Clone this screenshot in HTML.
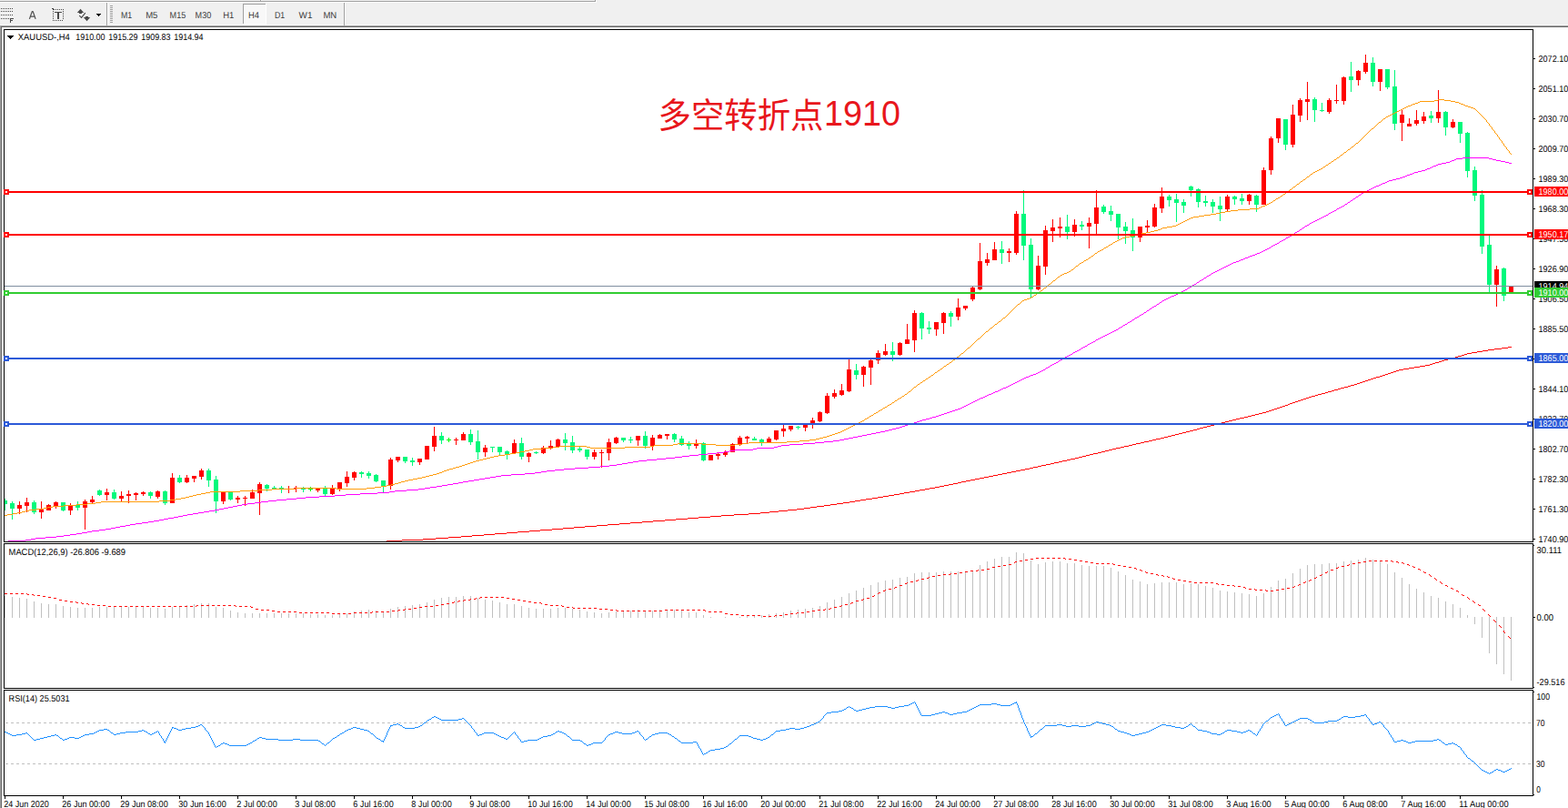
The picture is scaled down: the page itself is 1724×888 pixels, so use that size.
<!DOCTYPE html><html><head><meta charset="utf-8"><title>XAUUSD H4</title><style>html,body{margin:0;padding:0;background:#fff;overflow:hidden}svg{display:block}text{font-family:"Liberation Sans",sans-serif}</style></head><body><svg width="1724" height="888" viewBox="0 0 1724 888" font-family="'Liberation Sans', sans-serif" style="display:block">
<rect x="0" y="0" width="1724" height="888" fill="#fff"/>
<g shape-rendering="crispEdges">
<rect x="0" y="0" width="1724" height="28" fill="#f0f0f0"/>
<rect x="0" y="1" width="655" height="1" fill="#a0a0a0"/>
<rect x="0" y="2" width="656" height="1" fill="#fff"/>
<rect x="654" y="0" width="1" height="2" fill="#a0a0a0"/>
<rect x="655" y="0" width="1" height="3" fill="#fff"/>
<rect x="286" y="0" width="1" height="1" fill="#a0a0a0"/>
<rect x="287" y="0" width="1" height="1" fill="#fff"/>
<rect x="0" y="27" width="1724" height="1" fill="#f8f8f8"/>
<rect x="0" y="28" width="1724" height="1" fill="#a0a0a0"/>
<rect x="0" y="29" width="1724" height="1" fill="#696969"/>
<rect x="0" y="28" width="1" height="860" fill="#a0a0a0"/>
<rect x="1" y="29" width="1" height="859" fill="#696969"/>
<rect x="117" y="3" width="1" height="25" fill="#a0a0a0"/>
<rect x="118" y="3" width="1" height="25" fill="#fff"/>
<rect x="378" y="3" width="1" height="25" fill="#a0a0a0"/>
<rect x="379" y="3" width="1" height="25" fill="#fff"/>
<rect x="121" y="6" width="3" height="1" fill="#a0a0a0"/>
<rect x="121" y="8" width="3" height="1" fill="#a0a0a0"/>
<rect x="121" y="10" width="3" height="1" fill="#a0a0a0"/>
<rect x="121" y="12" width="3" height="1" fill="#a0a0a0"/>
<rect x="121" y="14" width="3" height="1" fill="#a0a0a0"/>
<rect x="121" y="16" width="3" height="1" fill="#a0a0a0"/>
<rect x="121" y="18" width="3" height="1" fill="#a0a0a0"/>
<rect x="121" y="20" width="3" height="1" fill="#a0a0a0"/>
<rect x="121" y="22" width="3" height="1" fill="#a0a0a0"/>
<rect x="121" y="24" width="3" height="1" fill="#a0a0a0"/>
<rect x="1" y="9" width="1" height="1" fill="#484848"/>
<rect x="3" y="9" width="1" height="1" fill="#484848"/>
<rect x="5" y="9" width="1" height="1" fill="#484848"/>
<rect x="7" y="9" width="1" height="1" fill="#484848"/>
<rect x="9" y="9" width="1" height="1" fill="#484848"/>
<rect x="11" y="9" width="1" height="1" fill="#484848"/>
<rect x="13" y="9" width="1" height="1" fill="#484848"/>
<rect x="1" y="12" width="1" height="1" fill="#484848"/>
<rect x="3" y="12" width="1" height="1" fill="#484848"/>
<rect x="5" y="12" width="1" height="1" fill="#484848"/>
<rect x="7" y="12" width="1" height="1" fill="#484848"/>
<rect x="9" y="12" width="1" height="1" fill="#484848"/>
<rect x="11" y="12" width="1" height="1" fill="#484848"/>
<rect x="13" y="12" width="1" height="1" fill="#484848"/>
<rect x="1" y="16" width="1" height="1" fill="#484848"/>
<rect x="3" y="16" width="1" height="1" fill="#484848"/>
<rect x="5" y="16" width="1" height="1" fill="#484848"/>
<rect x="7" y="16" width="1" height="1" fill="#484848"/>
<rect x="9" y="16" width="1" height="1" fill="#484848"/>
<rect x="11" y="16" width="1" height="1" fill="#484848"/>
<rect x="13" y="16" width="1" height="1" fill="#484848"/>
<rect x="1" y="20" width="1" height="1" fill="#484848"/>
<rect x="3" y="20" width="1" height="1" fill="#484848"/>
<rect x="5" y="20" width="1" height="1" fill="#484848"/>
<rect x="7" y="20" width="1" height="1" fill="#484848"/>
<rect x="9" y="20" width="1" height="1" fill="#484848"/>
<rect x="11" y="20" width="1" height="5" fill="#484848"/>
<rect x="11" y="20" width="4" height="1" fill="#484848"/>
<rect x="11" y="22" width="3" height="1" fill="#484848"/>
<rect x="57" y="9" width="2" height="1" fill="#484848"/>
<rect x="58" y="10" width="2" height="1" fill="#484848"/>
<rect x="61" y="10" width="1" height="1" fill="#484848"/>
<rect x="63" y="10" width="1" height="1" fill="#484848"/>
<rect x="65" y="10" width="1" height="1" fill="#484848"/>
<rect x="67" y="10" width="1" height="1" fill="#484848"/>
<rect x="69" y="10" width="1" height="1" fill="#484848"/>
<rect x="58" y="12" width="1" height="1" fill="#484848"/>
<rect x="69" y="12" width="1" height="1" fill="#484848"/>
<rect x="58" y="14" width="1" height="1" fill="#484848"/>
<rect x="69" y="14" width="1" height="1" fill="#484848"/>
<rect x="58" y="16" width="1" height="1" fill="#484848"/>
<rect x="69" y="16" width="1" height="1" fill="#484848"/>
<rect x="58" y="18" width="1" height="1" fill="#484848"/>
<rect x="69" y="18" width="1" height="1" fill="#484848"/>
<rect x="58" y="20" width="1" height="1" fill="#484848"/>
<rect x="69" y="20" width="1" height="1" fill="#484848"/>
<rect x="58" y="22" width="1" height="1" fill="#484848"/>
<rect x="60" y="22" width="1" height="1" fill="#484848"/>
<rect x="62" y="22" width="1" height="1" fill="#484848"/>
<rect x="64" y="22" width="1" height="1" fill="#484848"/>
<rect x="66" y="22" width="1" height="1" fill="#484848"/>
<rect x="68" y="22" width="1" height="1" fill="#484848"/>
<rect x="60" y="13" width="8" height="1" fill="#484848"/>
<rect x="63" y="13" width="2" height="8" fill="#484848"/>
<rect x="106" y="15" width="5" height="1" fill="#000"/>
<rect x="107" y="16" width="3" height="1" fill="#000"/>
<rect x="108" y="17" width="1" height="1" fill="#000"/>
<rect x="268" y="5" width="24" height="21" fill="#f8f8f8"/>
<rect x="267" y="4" width="25" height="1" fill="#a0a0a0"/>
<rect x="267" y="4" width="1" height="22" fill="#a0a0a0"/>
<rect x="292" y="4" width="1" height="23" fill="#fff"/>
<rect x="267" y="26" width="26" height="1" fill="#fff"/>
</g>
<path d="M32.4 20.9L35.3 12.6H36.2L39.1 20.9M33.6 18H37.9" fill="none" stroke="#505050" stroke-width="1.25" stroke-linejoin="round"/>
<path d="M88.5 9.8L92.2 14H90V15H87V14H84.8Z" fill="#484848"/>
<path d="M95.5 23.2L99.2 19H97V18H94V19H91.8Z" fill="#484848"/>
<path d="M87.2 17.2L89.6 19.4L93.8 14.2" fill="none" stroke="#484848" stroke-width="1.1"/>
<text x="132.9" y="20" font-size="10" fill="#3a3a3a" textLength="12.2" lengthAdjust="spacingAndGlyphs" text-rendering="geometricPrecision" xml:space="preserve">M1</text>
<text x="160.2" y="20" font-size="10" fill="#3a3a3a" textLength="13.2" lengthAdjust="spacingAndGlyphs" text-rendering="geometricPrecision" xml:space="preserve">M5</text>
<text x="186.6" y="20" font-size="10" fill="#3a3a3a" textLength="17.6" lengthAdjust="spacingAndGlyphs" text-rendering="geometricPrecision" xml:space="preserve">M15</text>
<text x="214.6" y="20" font-size="10" fill="#3a3a3a" textLength="17.6" lengthAdjust="spacingAndGlyphs" text-rendering="geometricPrecision" xml:space="preserve">M30</text>
<text x="245.2" y="20" font-size="10" fill="#3a3a3a" textLength="12.1" lengthAdjust="spacingAndGlyphs" text-rendering="geometricPrecision" xml:space="preserve">H1</text>
<text x="272.9" y="20" font-size="10" fill="#3a3a3a" textLength="12" lengthAdjust="spacingAndGlyphs" text-rendering="geometricPrecision" xml:space="preserve">H4</text>
<text x="301.9" y="20" font-size="10" fill="#3a3a3a" textLength="11.2" lengthAdjust="spacingAndGlyphs" text-rendering="geometricPrecision" xml:space="preserve">D1</text>
<text x="328.6" y="20" font-size="10" fill="#3a3a3a" textLength="14.8" lengthAdjust="spacingAndGlyphs" text-rendering="geometricPrecision" xml:space="preserve">W1</text>
<text x="355.4" y="20" font-size="10" fill="#3a3a3a" textLength="14.8" lengthAdjust="spacingAndGlyphs" text-rendering="geometricPrecision" xml:space="preserve">MN</text>
<g shape-rendering="crispEdges">
<rect x="4" y="32" width="1682" height="1" fill="#000"/>
<rect x="4" y="595" width="1682" height="1" fill="#000"/>
<rect x="4" y="32" width="1" height="564" fill="#000"/>
<rect x="1685" y="32" width="1" height="564" fill="#000"/>
<rect x="4" y="597" width="1682" height="1" fill="#000"/>
<rect x="4" y="756" width="1682" height="1" fill="#000"/>
<rect x="4" y="597" width="1" height="160" fill="#000"/>
<rect x="1685" y="597" width="1" height="160" fill="#000"/>
<rect x="4" y="758" width="1682" height="1" fill="#000"/>
<rect x="4" y="874" width="1682" height="1" fill="#000"/>
<rect x="4" y="758" width="1" height="117" fill="#000"/>
<rect x="1685" y="758" width="1" height="117" fill="#000"/>
<rect x="5" y="548" width="1" height="13" fill="#00f87c"/>
<rect x="5" y="550" width="3" height="4" fill="#00f87c"/>
<rect x="13" y="551" width="1" height="20" fill="#00f87c"/>
<rect x="11" y="553" width="5" height="6" fill="#00f87c"/>
<rect x="21" y="551" width="1" height="14" fill="#ff0000"/>
<rect x="19" y="555" width="5" height="4" fill="#ff0000"/>
<rect x="29" y="547" width="1" height="16" fill="#ff0000"/>
<rect x="27" y="552" width="5" height="4" fill="#ff0000"/>
<rect x="37" y="550" width="1" height="15" fill="#00f87c"/>
<rect x="35" y="552" width="5" height="11" fill="#00f87c"/>
<rect x="45" y="551" width="1" height="19" fill="#ff0000"/>
<rect x="43" y="560" width="5" height="3" fill="#ff0000"/>
<rect x="53" y="554" width="1" height="7" fill="#ff0000"/>
<rect x="51" y="555" width="5" height="6" fill="#ff0000"/>
<rect x="61" y="551" width="1" height="8" fill="#ff0000"/>
<rect x="59" y="552" width="5" height="4" fill="#ff0000"/>
<rect x="69" y="552" width="1" height="10" fill="#00f87c"/>
<rect x="67" y="552" width="5" height="9" fill="#00f87c"/>
<rect x="77" y="553" width="1" height="13" fill="#ff0000"/>
<rect x="75" y="556" width="5" height="5" fill="#ff0000"/>
<rect x="85" y="551" width="1" height="10" fill="#00f87c"/>
<rect x="83" y="555" width="5" height="3" fill="#00f87c"/>
<rect x="93" y="549" width="1" height="33" fill="#ff0000"/>
<rect x="91" y="551" width="5" height="7" fill="#ff0000"/>
<rect x="101" y="545" width="1" height="8" fill="#ff0000"/>
<rect x="99" y="549" width="5" height="3" fill="#ff0000"/>
<rect x="109" y="538" width="1" height="7" fill="#00f87c"/>
<rect x="107" y="539" width="5" height="5" fill="#00f87c"/>
<rect x="117" y="537" width="1" height="13" fill="#ff0000"/>
<rect x="115" y="541" width="5" height="3" fill="#ff0000"/>
<rect x="125" y="538" width="1" height="11" fill="#00f87c"/>
<rect x="123" y="541" width="5" height="7" fill="#00f87c"/>
<rect x="133" y="540" width="1" height="11" fill="#ff0000"/>
<rect x="131" y="545" width="5" height="3" fill="#ff0000"/>
<rect x="141" y="539" width="1" height="14" fill="#ff0000"/>
<rect x="139" y="543" width="5" height="2" fill="#ff0000"/>
<rect x="149" y="541" width="1" height="9" fill="#ff0000"/>
<rect x="147" y="542" width="5" height="2" fill="#ff0000"/>
<rect x="157" y="540" width="1" height="5" fill="#ff0000"/>
<rect x="155" y="541" width="5" height="2" fill="#ff0000"/>
<rect x="165" y="540" width="1" height="8" fill="#00f87c"/>
<rect x="163" y="541" width="5" height="4" fill="#00f87c"/>
<rect x="173" y="539" width="1" height="9" fill="#ff0000"/>
<rect x="171" y="540" width="5" height="6" fill="#ff0000"/>
<rect x="181" y="539" width="1" height="16" fill="#00f87c"/>
<rect x="179" y="540" width="5" height="13" fill="#00f87c"/>
<rect x="189" y="520" width="1" height="33" fill="#ff0000"/>
<rect x="187" y="525" width="5" height="28" fill="#ff0000"/>
<rect x="197" y="522" width="1" height="9" fill="#00f87c"/>
<rect x="195" y="525" width="5" height="5" fill="#00f87c"/>
<rect x="205" y="522" width="1" height="9" fill="#ff0000"/>
<rect x="203" y="525" width="5" height="5" fill="#ff0000"/>
<rect x="213" y="523" width="1" height="7" fill="#ff0000"/>
<rect x="211" y="523" width="5" height="3" fill="#ff0000"/>
<rect x="221" y="515" width="1" height="12" fill="#ff0000"/>
<rect x="219" y="517" width="5" height="7" fill="#ff0000"/>
<rect x="229" y="515" width="1" height="20" fill="#00f87c"/>
<rect x="227" y="517" width="5" height="11" fill="#00f87c"/>
<rect x="237" y="523" width="1" height="41" fill="#00f87c"/>
<rect x="235" y="527" width="5" height="24" fill="#00f87c"/>
<rect x="245" y="540" width="1" height="14" fill="#ff0000"/>
<rect x="243" y="541" width="5" height="10" fill="#ff0000"/>
<rect x="253" y="541" width="1" height="9" fill="#00f87c"/>
<rect x="251" y="541" width="5" height="8" fill="#00f87c"/>
<rect x="261" y="545" width="1" height="8" fill="#ff0000"/>
<rect x="259" y="547" width="5" height="2" fill="#ff0000"/>
<rect x="269" y="545" width="1" height="11" fill="#ff0000"/>
<rect x="267" y="547" width="5" height="1" fill="#ff0000"/>
<rect x="277" y="538" width="1" height="10" fill="#ff0000"/>
<rect x="275" y="541" width="5" height="7" fill="#ff0000"/>
<rect x="285" y="530" width="1" height="36" fill="#ff0000"/>
<rect x="283" y="532" width="5" height="10" fill="#ff0000"/>
<rect x="293" y="532" width="1" height="8" fill="#00f87c"/>
<rect x="291" y="533" width="5" height="4" fill="#00f87c"/>
<rect x="301" y="534" width="1" height="4" fill="#00f87c"/>
<rect x="299" y="536" width="5" height="1" fill="#00f87c"/>
<rect x="309" y="534" width="1" height="8" fill="#00f87c"/>
<rect x="307" y="536" width="5" height="1" fill="#00f87c"/>
<rect x="317" y="534" width="1" height="8" fill="#ff0000"/>
<rect x="315" y="537" width="5" height="1" fill="#ff0000"/>
<rect x="325" y="534" width="1" height="7" fill="#ff0000"/>
<rect x="323" y="536" width="5" height="1" fill="#ff0000"/>
<rect x="333" y="535" width="1" height="6" fill="#00f87c"/>
<rect x="331" y="537" width="5" height="1" fill="#00f87c"/>
<rect x="341" y="535" width="1" height="5" fill="#00ff00"/>
<rect x="339" y="537" width="5" height="1" fill="#00ff00"/>
<rect x="349" y="537" width="1" height="4" fill="#ff0000"/>
<rect x="347" y="537" width="5" height="2" fill="#ff0000"/>
<rect x="357" y="534" width="1" height="11" fill="#00f87c"/>
<rect x="355" y="537" width="5" height="6" fill="#00f87c"/>
<rect x="365" y="533" width="1" height="11" fill="#ff0000"/>
<rect x="363" y="536" width="5" height="7" fill="#ff0000"/>
<rect x="373" y="530" width="1" height="10" fill="#ff0000"/>
<rect x="371" y="530" width="5" height="7" fill="#ff0000"/>
<rect x="381" y="518" width="1" height="17" fill="#ff0000"/>
<rect x="379" y="524" width="5" height="7" fill="#ff0000"/>
<rect x="389" y="518" width="1" height="10" fill="#ff0000"/>
<rect x="387" y="519" width="5" height="6" fill="#ff0000"/>
<rect x="397" y="518" width="1" height="7" fill="#00f87c"/>
<rect x="395" y="519" width="5" height="2" fill="#00f87c"/>
<rect x="405" y="518" width="1" height="8" fill="#00f87c"/>
<rect x="403" y="520" width="5" height="3" fill="#00f87c"/>
<rect x="413" y="521" width="1" height="9" fill="#00f87c"/>
<rect x="411" y="522" width="5" height="7" fill="#00f87c"/>
<rect x="421" y="528" width="1" height="13" fill="#00f87c"/>
<rect x="419" y="528" width="5" height="6" fill="#00f87c"/>
<rect x="429" y="503" width="1" height="35" fill="#ff0000"/>
<rect x="427" y="505" width="5" height="29" fill="#ff0000"/>
<rect x="437" y="502" width="1" height="6" fill="#ff0000"/>
<rect x="435" y="502" width="5" height="4" fill="#ff0000"/>
<rect x="445" y="502" width="1" height="7" fill="#00f87c"/>
<rect x="443" y="502" width="5" height="5" fill="#00f87c"/>
<rect x="453" y="503" width="1" height="9" fill="#00f87c"/>
<rect x="451" y="506" width="5" height="2" fill="#00f87c"/>
<rect x="461" y="504" width="1" height="7" fill="#ff0000"/>
<rect x="459" y="504" width="5" height="4" fill="#ff0000"/>
<rect x="469" y="490" width="1" height="15" fill="#ff0000"/>
<rect x="467" y="490" width="5" height="15" fill="#ff0000"/>
<rect x="477" y="469" width="1" height="27" fill="#ff0000"/>
<rect x="475" y="479" width="5" height="12" fill="#ff0000"/>
<rect x="485" y="475" width="1" height="13" fill="#00f87c"/>
<rect x="483" y="479" width="5" height="5" fill="#00f87c"/>
<rect x="493" y="481" width="1" height="5" fill="#00ff00"/>
<rect x="491" y="483" width="5" height="1" fill="#00ff00"/>
<rect x="501" y="481" width="1" height="8" fill="#ff0000"/>
<rect x="499" y="483" width="5" height="1" fill="#ff0000"/>
<rect x="509" y="475" width="1" height="9" fill="#ff0000"/>
<rect x="507" y="477" width="5" height="7" fill="#ff0000"/>
<rect x="517" y="472" width="1" height="17" fill="#00f87c"/>
<rect x="515" y="477" width="5" height="9" fill="#00f87c"/>
<rect x="525" y="473" width="1" height="32" fill="#00f87c"/>
<rect x="523" y="485" width="5" height="12" fill="#00f87c"/>
<rect x="533" y="489" width="1" height="13" fill="#ff0000"/>
<rect x="531" y="492" width="5" height="5" fill="#ff0000"/>
<rect x="541" y="491" width="1" height="6" fill="#00f87c"/>
<rect x="539" y="491" width="5" height="1" fill="#00f87c"/>
<rect x="549" y="491" width="1" height="9" fill="#00f87c"/>
<rect x="547" y="491" width="5" height="6" fill="#00f87c"/>
<rect x="557" y="495" width="1" height="10" fill="#00f87c"/>
<rect x="555" y="496" width="5" height="3" fill="#00f87c"/>
<rect x="565" y="483" width="1" height="16" fill="#ff0000"/>
<rect x="563" y="487" width="5" height="11" fill="#ff0000"/>
<rect x="573" y="481" width="1" height="24" fill="#00f87c"/>
<rect x="571" y="487" width="5" height="15" fill="#00f87c"/>
<rect x="581" y="497" width="1" height="11" fill="#ff0000"/>
<rect x="579" y="498" width="5" height="4" fill="#ff0000"/>
<rect x="589" y="496" width="1" height="3" fill="#00f87c"/>
<rect x="587" y="497" width="5" height="1" fill="#00f87c"/>
<rect x="597" y="490" width="1" height="9" fill="#ff0000"/>
<rect x="595" y="492" width="5" height="6" fill="#ff0000"/>
<rect x="605" y="484" width="1" height="10" fill="#ff0000"/>
<rect x="603" y="490" width="5" height="2" fill="#ff0000"/>
<rect x="613" y="482" width="1" height="9" fill="#ff0000"/>
<rect x="611" y="483" width="5" height="8" fill="#ff0000"/>
<rect x="621" y="476" width="1" height="19" fill="#00f87c"/>
<rect x="619" y="483" width="5" height="4" fill="#00f87c"/>
<rect x="629" y="479" width="1" height="19" fill="#00f87c"/>
<rect x="627" y="486" width="5" height="9" fill="#00f87c"/>
<rect x="637" y="491" width="1" height="6" fill="#00f87c"/>
<rect x="635" y="493" width="5" height="2" fill="#00f87c"/>
<rect x="645" y="494" width="1" height="11" fill="#00f87c"/>
<rect x="643" y="494" width="5" height="8" fill="#00f87c"/>
<rect x="653" y="494" width="1" height="11" fill="#ff0000"/>
<rect x="651" y="497" width="5" height="5" fill="#ff0000"/>
<rect x="661" y="494" width="1" height="20" fill="#ff0000"/>
<rect x="659" y="497" width="5" height="1" fill="#ff0000"/>
<rect x="669" y="482" width="1" height="24" fill="#ff0000"/>
<rect x="667" y="486" width="5" height="12" fill="#ff0000"/>
<rect x="677" y="480" width="1" height="8" fill="#ff0000"/>
<rect x="675" y="481" width="5" height="6" fill="#ff0000"/>
<rect x="685" y="481" width="1" height="5" fill="#00f87c"/>
<rect x="683" y="481" width="5" height="3" fill="#00f87c"/>
<rect x="693" y="480" width="1" height="7" fill="#00f87c"/>
<rect x="691" y="483" width="5" height="1" fill="#00f87c"/>
<rect x="701" y="479" width="1" height="11" fill="#ff0000"/>
<rect x="699" y="479" width="5" height="5" fill="#ff0000"/>
<rect x="709" y="474" width="1" height="19" fill="#00f87c"/>
<rect x="707" y="479" width="5" height="11" fill="#00f87c"/>
<rect x="717" y="478" width="1" height="17" fill="#ff0000"/>
<rect x="715" y="481" width="5" height="9" fill="#ff0000"/>
<rect x="725" y="477" width="1" height="5" fill="#ff0000"/>
<rect x="723" y="478" width="5" height="4" fill="#ff0000"/>
<rect x="733" y="477" width="1" height="6" fill="#ff0000"/>
<rect x="731" y="477" width="5" height="2" fill="#ff0000"/>
<rect x="741" y="476" width="1" height="10" fill="#00f87c"/>
<rect x="739" y="477" width="5" height="6" fill="#00f87c"/>
<rect x="749" y="479" width="1" height="11" fill="#00f87c"/>
<rect x="747" y="482" width="5" height="7" fill="#00f87c"/>
<rect x="757" y="485" width="1" height="9" fill="#00f87c"/>
<rect x="755" y="488" width="5" height="2" fill="#00f87c"/>
<rect x="765" y="483" width="1" height="10" fill="#ff0000"/>
<rect x="763" y="488" width="5" height="2" fill="#ff0000"/>
<rect x="773" y="486" width="1" height="21" fill="#00f87c"/>
<rect x="771" y="487" width="5" height="19" fill="#00f87c"/>
<rect x="781" y="500" width="1" height="6" fill="#ff0000"/>
<rect x="779" y="500" width="5" height="6" fill="#ff0000"/>
<rect x="789" y="498" width="1" height="7" fill="#ff0000"/>
<rect x="787" y="499" width="5" height="2" fill="#ff0000"/>
<rect x="797" y="495" width="1" height="7" fill="#ff0000"/>
<rect x="795" y="497" width="5" height="3" fill="#ff0000"/>
<rect x="805" y="487" width="1" height="10" fill="#ff0000"/>
<rect x="803" y="488" width="5" height="9" fill="#ff0000"/>
<rect x="813" y="479" width="1" height="11" fill="#ff0000"/>
<rect x="811" y="481" width="5" height="7" fill="#ff0000"/>
<rect x="821" y="479" width="1" height="8" fill="#ff0000"/>
<rect x="819" y="480" width="5" height="2" fill="#ff0000"/>
<rect x="829" y="480" width="1" height="4" fill="#00f87c"/>
<rect x="827" y="482" width="5" height="2" fill="#00f87c"/>
<rect x="837" y="482" width="1" height="8" fill="#00f87c"/>
<rect x="835" y="483" width="5" height="3" fill="#00f87c"/>
<rect x="845" y="480" width="1" height="6" fill="#ff0000"/>
<rect x="843" y="482" width="5" height="4" fill="#ff0000"/>
<rect x="853" y="473" width="1" height="11" fill="#ff0000"/>
<rect x="851" y="473" width="5" height="10" fill="#ff0000"/>
<rect x="861" y="466" width="1" height="14" fill="#ff0000"/>
<rect x="859" y="471" width="5" height="3" fill="#ff0000"/>
<rect x="869" y="468" width="1" height="6" fill="#ff0000"/>
<rect x="867" y="468" width="5" height="4" fill="#ff0000"/>
<rect x="877" y="468" width="1" height="4" fill="#00f87c"/>
<rect x="875" y="469" width="5" height="1" fill="#00f87c"/>
<rect x="885" y="467" width="1" height="7" fill="#ff0000"/>
<rect x="883" y="467" width="5" height="3" fill="#ff0000"/>
<rect x="893" y="459" width="1" height="12" fill="#ff0000"/>
<rect x="891" y="462" width="5" height="4" fill="#ff0000"/>
<rect x="901" y="452" width="1" height="12" fill="#ff0000"/>
<rect x="899" y="453" width="5" height="10" fill="#ff0000"/>
<rect x="909" y="432" width="1" height="23" fill="#ff0000"/>
<rect x="907" y="435" width="5" height="19" fill="#ff0000"/>
<rect x="917" y="428" width="1" height="10" fill="#ff0000"/>
<rect x="915" y="432" width="5" height="4" fill="#ff0000"/>
<rect x="925" y="422" width="1" height="13" fill="#ff0000"/>
<rect x="923" y="429" width="5" height="5" fill="#ff0000"/>
<rect x="933" y="394" width="1" height="37" fill="#ff0000"/>
<rect x="931" y="406" width="5" height="24" fill="#ff0000"/>
<rect x="941" y="400" width="1" height="17" fill="#00f87c"/>
<rect x="939" y="407" width="5" height="5" fill="#00f87c"/>
<rect x="949" y="402" width="1" height="23" fill="#ff0000"/>
<rect x="947" y="403" width="5" height="9" fill="#ff0000"/>
<rect x="957" y="395" width="1" height="28" fill="#ff0000"/>
<rect x="955" y="396" width="5" height="8" fill="#ff0000"/>
<rect x="965" y="385" width="1" height="15" fill="#ff0000"/>
<rect x="963" y="388" width="5" height="8" fill="#ff0000"/>
<rect x="973" y="378" width="1" height="13" fill="#ff0000"/>
<rect x="971" y="386" width="5" height="4" fill="#ff0000"/>
<rect x="981" y="376" width="1" height="21" fill="#00f87c"/>
<rect x="979" y="386" width="5" height="4" fill="#00f87c"/>
<rect x="989" y="376" width="1" height="15" fill="#ff0000"/>
<rect x="987" y="377" width="5" height="13" fill="#ff0000"/>
<rect x="997" y="356" width="1" height="22" fill="#ff0000"/>
<rect x="995" y="373" width="5" height="5" fill="#ff0000"/>
<rect x="1005" y="341" width="1" height="46" fill="#ff0000"/>
<rect x="1003" y="344" width="5" height="30" fill="#ff0000"/>
<rect x="1013" y="343" width="1" height="30" fill="#00f87c"/>
<rect x="1011" y="344" width="5" height="17" fill="#00f87c"/>
<rect x="1021" y="353" width="1" height="14" fill="#00f87c"/>
<rect x="1019" y="360" width="5" height="2" fill="#00f87c"/>
<rect x="1029" y="354" width="1" height="15" fill="#ff0000"/>
<rect x="1027" y="354" width="5" height="8" fill="#ff0000"/>
<rect x="1037" y="343" width="1" height="24" fill="#ff0000"/>
<rect x="1035" y="344" width="5" height="11" fill="#ff0000"/>
<rect x="1045" y="342" width="1" height="17" fill="#00f87c"/>
<rect x="1043" y="344" width="5" height="4" fill="#00f87c"/>
<rect x="1053" y="328" width="1" height="24" fill="#ff0000"/>
<rect x="1051" y="338" width="5" height="10" fill="#ff0000"/>
<rect x="1061" y="336" width="1" height="5" fill="#ff0000"/>
<rect x="1059" y="336" width="5" height="3" fill="#ff0000"/>
<rect x="1069" y="315" width="1" height="16" fill="#ff0000"/>
<rect x="1067" y="316" width="5" height="13" fill="#ff0000"/>
<rect x="1077" y="267" width="1" height="52" fill="#ff0000"/>
<rect x="1075" y="287" width="5" height="31" fill="#ff0000"/>
<rect x="1085" y="278" width="1" height="14" fill="#ff0000"/>
<rect x="1083" y="285" width="5" height="4" fill="#ff0000"/>
<rect x="1093" y="266" width="1" height="20" fill="#ff0000"/>
<rect x="1091" y="274" width="5" height="12" fill="#ff0000"/>
<rect x="1101" y="265" width="1" height="25" fill="#00f87c"/>
<rect x="1099" y="274" width="5" height="4" fill="#00f87c"/>
<rect x="1109" y="273" width="1" height="15" fill="#ff0000"/>
<rect x="1107" y="276" width="5" height="2" fill="#ff0000"/>
<rect x="1117" y="232" width="1" height="48" fill="#ff0000"/>
<rect x="1115" y="235" width="5" height="43" fill="#ff0000"/>
<rect x="1125" y="209" width="1" height="77" fill="#00f87c"/>
<rect x="1123" y="235" width="5" height="35" fill="#00f87c"/>
<rect x="1133" y="262" width="1" height="66" fill="#00f87c"/>
<rect x="1131" y="269" width="5" height="49" fill="#00f87c"/>
<rect x="1141" y="281" width="1" height="38" fill="#ff0000"/>
<rect x="1139" y="292" width="5" height="26" fill="#ff0000"/>
<rect x="1149" y="248" width="1" height="54" fill="#ff0000"/>
<rect x="1147" y="253" width="5" height="40" fill="#ff0000"/>
<rect x="1157" y="241" width="1" height="25" fill="#ff0000"/>
<rect x="1155" y="250" width="5" height="4" fill="#ff0000"/>
<rect x="1165" y="239" width="1" height="22" fill="#ff0000"/>
<rect x="1163" y="249" width="5" height="2" fill="#ff0000"/>
<rect x="1173" y="236" width="1" height="27" fill="#00f87c"/>
<rect x="1171" y="249" width="5" height="6" fill="#00f87c"/>
<rect x="1181" y="241" width="1" height="19" fill="#ff0000"/>
<rect x="1179" y="247" width="5" height="8" fill="#ff0000"/>
<rect x="1189" y="243" width="1" height="10" fill="#00f87c"/>
<rect x="1187" y="247" width="5" height="2" fill="#00f87c"/>
<rect x="1197" y="239" width="1" height="34" fill="#ff0000"/>
<rect x="1195" y="245" width="5" height="4" fill="#ff0000"/>
<rect x="1205" y="209" width="1" height="49" fill="#ff0000"/>
<rect x="1203" y="228" width="5" height="18" fill="#ff0000"/>
<rect x="1213" y="225" width="1" height="10" fill="#00f87c"/>
<rect x="1211" y="227" width="5" height="6" fill="#00f87c"/>
<rect x="1221" y="226" width="1" height="17" fill="#00f87c"/>
<rect x="1219" y="232" width="5" height="4" fill="#00f87c"/>
<rect x="1229" y="235" width="1" height="28" fill="#00f87c"/>
<rect x="1227" y="235" width="5" height="15" fill="#00f87c"/>
<rect x="1237" y="244" width="1" height="24" fill="#00f87c"/>
<rect x="1235" y="249" width="5" height="5" fill="#00f87c"/>
<rect x="1245" y="240" width="1" height="36" fill="#00f87c"/>
<rect x="1243" y="253" width="5" height="8" fill="#00f87c"/>
<rect x="1253" y="249" width="1" height="17" fill="#ff0000"/>
<rect x="1251" y="249" width="5" height="12" fill="#ff0000"/>
<rect x="1261" y="242" width="1" height="13" fill="#ff0000"/>
<rect x="1259" y="248" width="5" height="2" fill="#ff0000"/>
<rect x="1269" y="224" width="1" height="26" fill="#ff0000"/>
<rect x="1267" y="228" width="5" height="21" fill="#ff0000"/>
<rect x="1277" y="206" width="1" height="28" fill="#ff0000"/>
<rect x="1275" y="216" width="5" height="13" fill="#ff0000"/>
<rect x="1285" y="214" width="1" height="13" fill="#00f87c"/>
<rect x="1283" y="216" width="5" height="4" fill="#00f87c"/>
<rect x="1293" y="213" width="1" height="31" fill="#00f87c"/>
<rect x="1291" y="219" width="5" height="4" fill="#00f87c"/>
<rect x="1301" y="219" width="1" height="15" fill="#00f87c"/>
<rect x="1299" y="222" width="5" height="4" fill="#00f87c"/>
<rect x="1309" y="204" width="1" height="12" fill="#00f87c"/>
<rect x="1307" y="205" width="5" height="4" fill="#00f87c"/>
<rect x="1317" y="207" width="1" height="21" fill="#00f87c"/>
<rect x="1315" y="208" width="5" height="14" fill="#00f87c"/>
<rect x="1325" y="215" width="1" height="12" fill="#00f87c"/>
<rect x="1323" y="221" width="5" height="2" fill="#00f87c"/>
<rect x="1333" y="219" width="1" height="15" fill="#00f87c"/>
<rect x="1331" y="222" width="5" height="5" fill="#00f87c"/>
<rect x="1341" y="216" width="1" height="27" fill="#00f87c"/>
<rect x="1339" y="226" width="5" height="4" fill="#00f87c"/>
<rect x="1349" y="214" width="1" height="18" fill="#ff0000"/>
<rect x="1347" y="216" width="5" height="14" fill="#ff0000"/>
<rect x="1357" y="215" width="1" height="10" fill="#00f87c"/>
<rect x="1355" y="216" width="5" height="3" fill="#00f87c"/>
<rect x="1365" y="213" width="1" height="12" fill="#00f87c"/>
<rect x="1363" y="218" width="5" height="3" fill="#00f87c"/>
<rect x="1373" y="213" width="1" height="12" fill="#ff0000"/>
<rect x="1371" y="214" width="5" height="7" fill="#ff0000"/>
<rect x="1381" y="214" width="1" height="19" fill="#00f87c"/>
<rect x="1379" y="215" width="5" height="10" fill="#00f87c"/>
<rect x="1389" y="184" width="1" height="41" fill="#ff0000"/>
<rect x="1387" y="187" width="5" height="38" fill="#ff0000"/>
<rect x="1397" y="150" width="1" height="42" fill="#ff0000"/>
<rect x="1395" y="152" width="5" height="35" fill="#ff0000"/>
<rect x="1405" y="130" width="1" height="27" fill="#ff0000"/>
<rect x="1403" y="130" width="5" height="22" fill="#ff0000"/>
<rect x="1413" y="131" width="1" height="34" fill="#00f87c"/>
<rect x="1411" y="131" width="5" height="28" fill="#00f87c"/>
<rect x="1421" y="115" width="1" height="47" fill="#ff0000"/>
<rect x="1419" y="126" width="5" height="33" fill="#ff0000"/>
<rect x="1429" y="108" width="1" height="26" fill="#ff0000"/>
<rect x="1427" y="110" width="5" height="17" fill="#ff0000"/>
<rect x="1437" y="90" width="1" height="42" fill="#ff0000"/>
<rect x="1435" y="109" width="5" height="3" fill="#ff0000"/>
<rect x="1445" y="107" width="1" height="27" fill="#00f87c"/>
<rect x="1443" y="109" width="5" height="12" fill="#00f87c"/>
<rect x="1453" y="113" width="1" height="10" fill="#00f87c"/>
<rect x="1451" y="121" width="5" height="1" fill="#00f87c"/>
<rect x="1461" y="108" width="1" height="17" fill="#ff0000"/>
<rect x="1459" y="110" width="5" height="13" fill="#ff0000"/>
<rect x="1469" y="93" width="1" height="21" fill="#ff0000"/>
<rect x="1467" y="110" width="5" height="1" fill="#ff0000"/>
<rect x="1477" y="84" width="1" height="31" fill="#ff0000"/>
<rect x="1475" y="85" width="5" height="26" fill="#ff0000"/>
<rect x="1485" y="68" width="1" height="33" fill="#00f87c"/>
<rect x="1483" y="84" width="5" height="4" fill="#00f87c"/>
<rect x="1493" y="77" width="1" height="17" fill="#ff0000"/>
<rect x="1491" y="78" width="5" height="10" fill="#ff0000"/>
<rect x="1501" y="60" width="1" height="21" fill="#ff0000"/>
<rect x="1499" y="69" width="5" height="10" fill="#ff0000"/>
<rect x="1509" y="63" width="1" height="32" fill="#00f87c"/>
<rect x="1507" y="69" width="5" height="21" fill="#00f87c"/>
<rect x="1517" y="76" width="1" height="24" fill="#ff0000"/>
<rect x="1515" y="76" width="5" height="14" fill="#ff0000"/>
<rect x="1525" y="76" width="1" height="22" fill="#00f87c"/>
<rect x="1523" y="76" width="5" height="20" fill="#00f87c"/>
<rect x="1533" y="77" width="1" height="66" fill="#00f87c"/>
<rect x="1531" y="95" width="5" height="41" fill="#00f87c"/>
<rect x="1541" y="120" width="1" height="35" fill="#ff0000"/>
<rect x="1539" y="126" width="5" height="9" fill="#ff0000"/>
<rect x="1549" y="130" width="1" height="9" fill="#ff0000"/>
<rect x="1547" y="136" width="5" height="3" fill="#ff0000"/>
<rect x="1557" y="121" width="1" height="17" fill="#ff0000"/>
<rect x="1555" y="132" width="5" height="4" fill="#ff0000"/>
<rect x="1565" y="123" width="1" height="13" fill="#ff0000"/>
<rect x="1563" y="128" width="5" height="5" fill="#ff0000"/>
<rect x="1573" y="122" width="1" height="13" fill="#00f87c"/>
<rect x="1571" y="127" width="5" height="3" fill="#00f87c"/>
<rect x="1581" y="99" width="1" height="36" fill="#ff0000"/>
<rect x="1579" y="123" width="5" height="7" fill="#ff0000"/>
<rect x="1589" y="122" width="1" height="27" fill="#00f87c"/>
<rect x="1587" y="123" width="5" height="17" fill="#00f87c"/>
<rect x="1597" y="131" width="1" height="10" fill="#ff0000"/>
<rect x="1595" y="134" width="5" height="6" fill="#ff0000"/>
<rect x="1605" y="134" width="1" height="23" fill="#00f87c"/>
<rect x="1603" y="134" width="5" height="13" fill="#00f87c"/>
<rect x="1613" y="145" width="1" height="50" fill="#00f87c"/>
<rect x="1611" y="146" width="5" height="42" fill="#00f87c"/>
<rect x="1621" y="183" width="1" height="38" fill="#00f87c"/>
<rect x="1619" y="187" width="5" height="28" fill="#00f87c"/>
<rect x="1629" y="209" width="1" height="70" fill="#00f87c"/>
<rect x="1627" y="214" width="5" height="57" fill="#00f87c"/>
<rect x="1637" y="259" width="1" height="62" fill="#00f87c"/>
<rect x="1635" y="269" width="5" height="44" fill="#00f87c"/>
<rect x="1645" y="292" width="1" height="45" fill="#ff0000"/>
<rect x="1643" y="296" width="5" height="17" fill="#ff0000"/>
<rect x="1653" y="294" width="1" height="37" fill="#00f87c"/>
<rect x="1651" y="295" width="5" height="30" fill="#00f87c"/>
<rect x="1661" y="314" width="1" height="7" fill="#ff0000"/>
<rect x="1659" y="314" width="5" height="7" fill="#ff0000"/>
</g>
<path d="M1581 109h7v1h-7zM1577 110h4v1h-4zM1588 110h7v1h-7zM1561 111h16v1h-16zM1595 111h5v1h-5zM1559 112h2v1h-2zM1600 112h4v1h-4zM1556 113h3v1h-3zM1604 113h2v1h-2zM1553 114h3v1h-3zM1606 114h3v1h-3zM1551 115h2v1h-2zM1609 115h2v1h-2zM1548 116h3v1h-3zM1611 116h3v1h-3zM1546 117h2v1h-2zM1614 117h3v1h-3zM1544 118h2v1h-2zM1617 118h3v1h-3zM1542 119h2v1h-2zM1620 119h2v1h-2zM1540 120h2v1h-2zM1622 120h1v1h-1zM1538 121h2v1h-2zM1623 121h1v1h-1zM1536 122h2v1h-2zM1624 122h1v1h-1zM1534 123h2v1h-2zM1625 123h1v1h-1zM1532 124h2v1h-2zM1626 124h1v1h-1zM1530 125h2v1h-2zM1627 125h1v1h-1zM1528 126h2v1h-2zM1628 126h1v1h-1zM1526 127h2v1h-2zM1629 127h1v1h-1zM1524 128h2v1h-2zM1630 128h1v1h-1zM1523 129h1v1h-1zM1631 129h1v1h-1zM1521 130h2v1h-2zM1632 130h1v1h-1zM1520 131h1v1h-1zM1633 131h1v1h-1zM1519 132h1v1h-1zM1634 132h1v1h-1zM1518 133h1v1h-1zM1634 133h1v1h-1zM1516 134h2v1h-2zM1635 134h1v1h-1zM1515 135h1v1h-1zM1636 135h1v1h-1zM1514 136h1v1h-1zM1637 136h1v1h-1zM1513 137h1v1h-1zM1637 137h1v1h-1zM1512 138h1v1h-1zM1638 138h1v1h-1zM1511 139h1v1h-1zM1639 139h1v1h-1zM1510 140h1v1h-1zM1640 140h1v1h-1zM1508 141h2v1h-2zM1640 141h1v1h-1zM1507 142h1v1h-1zM1641 142h1v1h-1zM1506 143h1v1h-1zM1642 143h1v1h-1zM1505 144h1v1h-1zM1643 144h1v1h-1zM1504 145h1v1h-1zM1643 145h1v1h-1zM1503 146h1v1h-1zM1644 146h1v1h-1zM1502 147h1v1h-1zM1645 147h1v1h-1zM1501 148h1v1h-1zM1646 148h1v1h-1zM1500 149h1v1h-1zM1646 149h1v1h-1zM1499 150h1v1h-1zM1647 150h1v1h-1zM1498 151h1v1h-1zM1648 151h1v1h-1zM1497 152h1v1h-1zM1648 152h1v1h-1zM1496 153h1v1h-1zM1649 153h1v1h-1zM1495 154h1v1h-1zM1650 154h1v1h-1zM1494 155h1v1h-1zM1651 155h1v1h-1zM1493 156h1v1h-1zM1651 156h1v1h-1zM1491 157h2v1h-2zM1652 157h1v1h-1zM1490 158h1v1h-1zM1653 158h1v1h-1zM1489 159h1v1h-1zM1653 159h1v1h-1zM1488 160h1v1h-1zM1654 160h1v1h-1zM1486 161h2v1h-2zM1655 161h1v1h-1zM1485 162h1v1h-1zM1656 162h1v1h-1zM1484 163h1v1h-1zM1656 163h1v1h-1zM1482 164h2v1h-2zM1657 164h1v1h-1zM1481 165h1v1h-1zM1658 165h1v1h-1zM1480 166h1v1h-1zM1659 166h1v1h-1zM1478 167h2v1h-2zM1659 167h1v1h-1zM1477 168h1v1h-1zM1660 168h1v1h-1zM1476 169h1v1h-1zM1661 169h1v1h-1zM1474 170h2v1h-2zM1473 171h1v1h-1zM1472 172h1v1h-1zM1470 173h2v1h-2zM1469 174h1v1h-1zM1467 175h2v1h-2zM1466 176h1v1h-1zM1464 177h2v1h-2zM1463 178h1v1h-1zM1461 179h2v1h-2zM1460 180h1v1h-1zM1458 181h2v1h-2zM1457 182h1v1h-1zM1455 183h2v1h-2zM1454 184h1v1h-1zM1452 185h2v1h-2zM1450 186h2v1h-2zM1448 187h2v1h-2zM1446 188h2v1h-2zM1444 189h2v1h-2zM1443 190h1v1h-1zM1441 191h2v1h-2zM1440 192h1v1h-1zM1439 193h1v1h-1zM1437 194h2v1h-2zM1436 195h1v1h-1zM1435 196h1v1h-1zM1433 197h2v1h-2zM1432 198h1v1h-1zM1430 199h2v1h-2zM1429 200h1v1h-1zM1428 201h1v1h-1zM1426 202h2v1h-2zM1425 203h1v1h-1zM1424 204h1v1h-1zM1422 205h2v1h-2zM1421 206h1v1h-1zM1420 207h1v1h-1zM1418 208h2v1h-2zM1417 209h1v1h-1zM1416 210h1v1h-1zM1414 211h2v1h-2zM1413 212h1v1h-1zM1411 213h2v1h-2zM1410 214h1v1h-1zM1408 215h2v1h-2zM1407 216h1v1h-1zM1405 217h2v1h-2zM1403 218h2v1h-2zM1402 219h1v1h-1zM1400 220h2v1h-2zM1399 221h1v1h-1zM1397 222h2v1h-2zM1395 223h2v1h-2zM1393 224h2v1h-2zM1391 225h2v1h-2zM1388 226h3v1h-3zM1386 227h2v1h-2zM1384 228h2v1h-2zM1374 229h10v1h-10zM1361 230h13v1h-13zM1353 231h8v1h-8zM1347 232h6v1h-6zM1342 233h5v1h-5zM1337 234h5v1h-5zM1331 235h6v1h-6zM1324 236h7v1h-7zM1318 237h6v1h-6zM1312 238h6v1h-6zM1309 239h3v1h-3zM1307 240h2v1h-2zM1305 241h2v1h-2zM1303 242h2v1h-2zM1301 243h2v1h-2zM1299 244h2v1h-2zM1297 245h2v1h-2zM1295 246h2v1h-2zM1293 247h2v1h-2zM1289 248h4v1h-4zM1283 249h6v1h-6zM1278 250h5v1h-5zM1276 251h2v1h-2zM1273 252h3v1h-3zM1269 253h4v1h-4zM1265 254h4v1h-4zM1260 255h5v1h-5zM1255 256h5v1h-5zM1251 257h4v1h-4zM1247 258h4v1h-4zM1242 259h5v1h-5zM1237 260h5v1h-5zM1234 261h3v1h-3zM1232 262h2v1h-2zM1230 263h2v1h-2zM1228 264h2v1h-2zM1226 265h2v1h-2zM1224 266h2v1h-2zM1223 267h1v1h-1zM1221 268h2v1h-2zM1219 269h2v1h-2zM1218 270h1v1h-1zM1216 271h2v1h-2zM1214 272h2v1h-2zM1213 273h1v1h-1zM1211 274h2v1h-2zM1209 275h2v1h-2zM1207 276h2v1h-2zM1206 277h1v1h-1zM1204 278h2v1h-2zM1203 279h1v1h-1zM1202 280h1v1h-1zM1200 281h2v1h-2zM1199 282h1v1h-1zM1197 283h2v1h-2zM1196 284h1v1h-1zM1194 285h2v1h-2zM1192 286h2v1h-2zM1191 287h1v1h-1zM1189 288h2v1h-2zM1187 289h2v1h-2zM1186 290h1v1h-1zM1185 291h1v1h-1zM1183 292h2v1h-2zM1182 293h1v1h-1zM1181 294h1v1h-1zM1180 295h1v1h-1zM1178 296h2v1h-2zM1177 297h1v1h-1zM1175 298h2v1h-2zM1173 299h2v1h-2zM1170 300h3v1h-3zM1168 301h2v1h-2zM1166 302h2v1h-2zM1165 303h1v1h-1zM1163 304h2v1h-2zM1162 305h1v1h-1zM1161 306h1v1h-1zM1160 307h1v1h-1zM1158 308h2v1h-2zM1157 309h1v1h-1zM1156 310h1v1h-1zM1155 311h1v1h-1zM1153 312h2v1h-2zM1152 313h1v1h-1zM1151 314h1v1h-1zM1150 315h1v1h-1zM1148 316h2v1h-2zM1147 317h1v1h-1zM1146 318h1v1h-1zM1144 319h2v1h-2zM1143 320h1v1h-1zM1142 321h1v1h-1zM1140 322h2v1h-2zM1139 323h1v1h-1zM1137 324h2v1h-2zM1136 325h1v1h-1zM1134 326h2v1h-2zM1132 327h2v1h-2zM1129 328h3v1h-3zM1126 329h3v1h-3zM1124 330h2v1h-2zM1123 331h1v1h-1zM1122 332h1v1h-1zM1121 333h1v1h-1zM1119 334h2v1h-2zM1118 335h1v1h-1zM1117 336h1v1h-1zM1116 337h1v1h-1zM1115 338h1v1h-1zM1114 339h1v1h-1zM1113 340h1v1h-1zM1112 341h1v1h-1zM1111 342h1v1h-1zM1110 343h1v1h-1zM1109 344h1v1h-1zM1108 345h1v1h-1zM1107 346h1v1h-1zM1106 347h1v1h-1zM1105 348h1v1h-1zM1103 349h2v1h-2zM1102 350h1v1h-1zM1101 351h1v1h-1zM1100 352h1v1h-1zM1098 353h2v1h-2zM1097 354h1v1h-1zM1096 355h1v1h-1zM1094 356h2v1h-2zM1093 357h1v1h-1zM1092 358h1v1h-1zM1091 359h1v1h-1zM1089 360h2v1h-2zM1088 361h1v1h-1zM1087 362h1v1h-1zM1086 363h1v1h-1zM1084 364h2v1h-2zM1083 365h1v1h-1zM1082 366h1v1h-1zM1081 367h1v1h-1zM1080 368h1v1h-1zM1079 369h1v1h-1zM1078 370h1v1h-1zM1077 371h1v1h-1zM1075 372h2v1h-2zM1074 373h1v1h-1zM1073 374h1v1h-1zM1072 375h1v1h-1zM1071 376h1v1h-1zM1070 377h1v1h-1zM1069 378h1v1h-1zM1068 379h1v1h-1zM1067 380h1v1h-1zM1066 381h1v1h-1zM1064 382h2v1h-2zM1063 383h1v1h-1zM1062 384h1v1h-1zM1061 385h1v1h-1zM1060 386h1v1h-1zM1059 387h1v1h-1zM1057 388h2v1h-2zM1056 389h1v1h-1zM1055 390h1v1h-1zM1054 391h1v1h-1zM1052 392h2v1h-2zM1051 393h1v1h-1zM1050 394h1v1h-1zM1048 395h2v1h-2zM1047 396h1v1h-1zM1046 397h1v1h-1zM1044 398h2v1h-2zM1043 399h1v1h-1zM1041 400h2v1h-2zM1040 401h1v1h-1zM1038 402h2v1h-2zM1037 403h1v1h-1zM1036 404h1v1h-1zM1034 405h2v1h-2zM1033 406h1v1h-1zM1031 407h2v1h-2zM1030 408h1v1h-1zM1028 409h2v1h-2zM1027 410h1v1h-1zM1026 411h1v1h-1zM1024 412h2v1h-2zM1023 413h1v1h-1zM1021 414h2v1h-2zM1020 415h1v1h-1zM1018 416h2v1h-2zM1017 417h1v1h-1zM1015 418h2v1h-2zM1014 419h1v1h-1zM1012 420h2v1h-2zM1011 421h1v1h-1zM1009 422h2v1h-2zM1008 423h1v1h-1zM1007 424h1v1h-1zM1005 425h2v1h-2zM1004 426h1v1h-1zM1003 427h1v1h-1zM1002 428h1v1h-1zM1001 429h1v1h-1zM999 430h2v1h-2zM998 431h1v1h-1zM997 432h1v1h-1zM995 433h2v1h-2zM994 434h1v1h-1zM992 435h2v1h-2zM991 436h1v1h-1zM989 437h2v1h-2zM987 438h2v1h-2zM986 439h1v1h-1zM984 440h2v1h-2zM983 441h1v1h-1zM981 442h2v1h-2zM980 443h1v1h-1zM978 444h2v1h-2zM976 445h2v1h-2zM975 446h1v1h-1zM973 447h2v1h-2zM971 448h2v1h-2zM970 449h1v1h-1zM968 450h2v1h-2zM966 451h2v1h-2zM965 452h1v1h-1zM963 453h2v1h-2zM961 454h2v1h-2zM960 455h1v1h-1zM958 456h2v1h-2zM956 457h2v1h-2zM955 458h1v1h-1zM953 459h2v1h-2zM951 460h2v1h-2zM950 461h1v1h-1zM948 462h2v1h-2zM946 463h2v1h-2zM944 464h2v1h-2zM942 465h2v1h-2zM940 466h2v1h-2zM938 467h2v1h-2zM936 468h2v1h-2zM934 469h2v1h-2zM932 470h2v1h-2zM930 471h2v1h-2zM928 472h2v1h-2zM926 473h2v1h-2zM924 474h2v1h-2zM921 475h3v1h-3zM918 476h3v1h-3zM915 477h3v1h-3zM912 478h3v1h-3zM909 479h3v1h-3zM905 480h4v1h-4zM901 481h4v1h-4zM897 482h4v1h-4zM890 483h7v1h-7zM879 484h11v1h-11zM865 485h14v1h-14zM823 486h42v1h-42zM745 487h27v1h-27zM816 487h7v1h-7zM740 488h5v1h-5zM772 488h15v1h-15zM808 488h8v1h-8zM719 489h21v1h-21zM787 489h21v1h-21zM615 490h30v1h-30zM715 490h4v1h-4zM608 491h7v1h-7zM645 491h4v1h-4zM687 491h28v1h-28zM597 492h11v1h-11zM649 492h38v1h-38zM586 493h11v1h-11zM582 494h4v1h-4zM577 495h5v1h-5zM572 496h5v1h-5zM567 497h5v1h-5zM561 498h6v1h-6zM555 499h6v1h-6zM548 500h7v1h-7zM543 501h5v1h-5zM539 502h4v1h-4zM535 503h4v1h-4zM531 504h4v1h-4zM527 505h4v1h-4zM523 506h4v1h-4zM520 507h3v1h-3zM517 508h3v1h-3zM514 509h3v1h-3zM511 510h3v1h-3zM508 511h3v1h-3zM505 512h3v1h-3zM501 513h4v1h-4zM498 514h3v1h-3zM494 515h4v1h-4zM491 516h3v1h-3zM488 517h3v1h-3zM486 518h2v1h-2zM483 519h3v1h-3zM480 520h3v1h-3zM476 521h4v1h-4zM472 522h4v1h-4zM468 523h4v1h-4zM464 524h4v1h-4zM459 525h5v1h-5zM454 526h5v1h-5zM449 527h5v1h-5zM445 528h4v1h-4zM441 529h4v1h-4zM438 530h3v1h-3zM434 531h4v1h-4zM430 532h4v1h-4zM425 533h5v1h-5zM419 534h6v1h-6zM412 535h7v1h-7zM325 536h45v1h-45zM403 536h9v1h-9zM299 537h26v1h-26zM370 537h33v1h-33zM284 538h15v1h-15zM264 539h20v1h-20zM231 540h33v1h-33zM226 541h5v1h-5zM221 542h5v1h-5zM216 543h5v1h-5zM212 544h4v1h-4zM208 545h4v1h-4zM204 546h4v1h-4zM199 547h5v1h-5zM193 548h6v1h-6zM187 549h6v1h-6zM175 550h12v1h-12zM111 551h64v1h-64zM105 552h6v1h-6zM96 553h9v1h-9zM84 554h12v1h-12zM70 555h14v1h-14zM58 556h12v1h-12zM52 557h6v1h-6zM48 558h4v1h-4zM40 559h8v1h-8zM32 560h8v1h-8zM28 561h4v1h-4zM24 562h4v1h-4zM19 563h5v1h-5zM14 564h5v1h-5zM8 565h6v1h-6zM5 566h3v1h-3z" fill="#ff9c0a" shape-rendering="crispEdges"/>
<path d="M1608 173h29v1h-29zM1601 174h7v1h-7zM1637 174h4v1h-4zM1599 175h2v1h-2zM1641 175h4v1h-4zM1596 176h3v1h-3zM1645 176h5v1h-5zM1594 177h2v1h-2zM1650 177h5v1h-5zM1590 178h4v1h-4zM1655 178h4v1h-4zM1585 179h5v1h-5zM1659 179h3v1h-3zM1581 180h4v1h-4zM1579 181h2v1h-2zM1576 182h3v1h-3zM1574 183h2v1h-2zM1572 184h2v1h-2zM1569 185h3v1h-3zM1567 186h2v1h-2zM1563 187h4v1h-4zM1559 188h4v1h-4zM1555 189h4v1h-4zM1553 190h2v1h-2zM1550 191h3v1h-3zM1547 192h3v1h-3zM1545 193h2v1h-2zM1542 194h3v1h-3zM1539 195h3v1h-3zM1535 196h4v1h-4zM1531 197h4v1h-4zM1527 198h4v1h-4zM1525 199h2v1h-2zM1523 200h2v1h-2zM1520 201h3v1h-3zM1518 202h2v1h-2zM1516 203h2v1h-2zM1513 204h3v1h-3zM1511 205h2v1h-2zM1509 206h2v1h-2zM1507 207h2v1h-2zM1505 208h2v1h-2zM1503 209h2v1h-2zM1501 210h2v1h-2zM1499 211h2v1h-2zM1497 212h2v1h-2zM1496 213h1v1h-1zM1494 214h2v1h-2zM1493 215h1v1h-1zM1491 216h2v1h-2zM1490 217h1v1h-1zM1488 218h2v1h-2zM1487 219h1v1h-1zM1485 220h2v1h-2zM1484 221h1v1h-1zM1482 222h2v1h-2zM1481 223h1v1h-1zM1479 224h2v1h-2zM1478 225h1v1h-1zM1476 226h2v1h-2zM1474 227h2v1h-2zM1472 228h2v1h-2zM1470 229h2v1h-2zM1469 230h1v1h-1zM1467 231h2v1h-2zM1465 232h2v1h-2zM1463 233h2v1h-2zM1461 234h2v1h-2zM1460 235h1v1h-1zM1458 236h2v1h-2zM1456 237h2v1h-2zM1454 238h2v1h-2zM1452 239h2v1h-2zM1450 240h2v1h-2zM1448 241h2v1h-2zM1446 242h2v1h-2zM1444 243h2v1h-2zM1442 244h2v1h-2zM1440 245h2v1h-2zM1439 246h1v1h-1zM1437 247h2v1h-2zM1435 248h2v1h-2zM1434 249h1v1h-1zM1432 250h2v1h-2zM1431 251h1v1h-1zM1429 252h2v1h-2zM1428 253h1v1h-1zM1426 254h2v1h-2zM1424 255h2v1h-2zM1423 256h1v1h-1zM1421 257h2v1h-2zM1420 258h1v1h-1zM1418 259h2v1h-2zM1416 260h2v1h-2zM1414 261h2v1h-2zM1413 262h1v1h-1zM1411 263h2v1h-2zM1409 264h2v1h-2zM1407 265h2v1h-2zM1406 266h1v1h-1zM1404 267h2v1h-2zM1402 268h2v1h-2zM1400 269h2v1h-2zM1398 270h2v1h-2zM1397 271h1v1h-1zM1395 272h2v1h-2zM1393 273h2v1h-2zM1391 274h2v1h-2zM1389 275h2v1h-2zM1387 276h2v1h-2zM1385 277h2v1h-2zM1382 278h3v1h-3zM1380 279h2v1h-2zM1377 280h3v1h-3zM1374 281h3v1h-3zM1372 282h2v1h-2zM1369 283h3v1h-3zM1367 284h2v1h-2zM1364 285h3v1h-3zM1362 286h2v1h-2zM1359 287h3v1h-3zM1356 288h3v1h-3zM1354 289h2v1h-2zM1352 290h2v1h-2zM1350 291h2v1h-2zM1348 292h2v1h-2zM1346 293h2v1h-2zM1344 294h2v1h-2zM1342 295h2v1h-2zM1340 296h2v1h-2zM1338 297h2v1h-2zM1336 298h2v1h-2zM1334 299h2v1h-2zM1332 300h2v1h-2zM1331 301h1v1h-1zM1329 302h2v1h-2zM1327 303h2v1h-2zM1326 304h1v1h-1zM1324 305h2v1h-2zM1323 306h1v1h-1zM1321 307h2v1h-2zM1319 308h2v1h-2zM1318 309h1v1h-1zM1316 310h2v1h-2zM1315 311h1v1h-1zM1313 312h2v1h-2zM1311 313h2v1h-2zM1310 314h1v1h-1zM1308 315h2v1h-2zM1306 316h2v1h-2zM1305 317h1v1h-1zM1303 318h2v1h-2zM1301 319h2v1h-2zM1299 320h2v1h-2zM1297 321h2v1h-2zM1295 322h2v1h-2zM1293 323h2v1h-2zM1291 324h2v1h-2zM1288 325h3v1h-3zM1286 326h2v1h-2zM1284 327h2v1h-2zM1282 328h2v1h-2zM1280 329h2v1h-2zM1278 330h2v1h-2zM1277 331h1v1h-1zM1275 332h2v1h-2zM1274 333h1v1h-1zM1272 334h2v1h-2zM1271 335h1v1h-1zM1269 336h2v1h-2zM1267 337h2v1h-2zM1266 338h1v1h-1zM1264 339h2v1h-2zM1263 340h1v1h-1zM1261 341h2v1h-2zM1260 342h1v1h-1zM1258 343h2v1h-2zM1257 344h1v1h-1zM1255 345h2v1h-2zM1253 346h2v1h-2zM1252 347h1v1h-1zM1250 348h2v1h-2zM1248 349h2v1h-2zM1247 350h1v1h-1zM1245 351h2v1h-2zM1244 352h1v1h-1zM1242 353h2v1h-2zM1240 354h2v1h-2zM1239 355h1v1h-1zM1237 356h2v1h-2zM1235 357h2v1h-2zM1234 358h1v1h-1zM1232 359h2v1h-2zM1230 360h2v1h-2zM1229 361h1v1h-1zM1227 362h2v1h-2zM1225 363h2v1h-2zM1223 364h2v1h-2zM1221 365h2v1h-2zM1219 366h2v1h-2zM1217 367h2v1h-2zM1215 368h2v1h-2zM1213 369h2v1h-2zM1211 370h2v1h-2zM1209 371h2v1h-2zM1207 372h2v1h-2zM1205 373h2v1h-2zM1204 374h1v1h-1zM1202 375h2v1h-2zM1200 376h2v1h-2zM1198 377h2v1h-2zM1196 378h2v1h-2zM1195 379h1v1h-1zM1193 380h2v1h-2zM1191 381h2v1h-2zM1189 382h2v1h-2zM1188 383h1v1h-1zM1186 384h2v1h-2zM1184 385h2v1h-2zM1182 386h2v1h-2zM1180 387h2v1h-2zM1179 388h1v1h-1zM1177 389h2v1h-2zM1175 390h2v1h-2zM1173 391h2v1h-2zM1171 392h2v1h-2zM1170 393h1v1h-1zM1168 394h2v1h-2zM1166 395h2v1h-2zM1164 396h2v1h-2zM1163 397h1v1h-1zM1161 398h2v1h-2zM1159 399h2v1h-2zM1157 400h2v1h-2zM1155 401h2v1h-2zM1154 402h1v1h-1zM1152 403h2v1h-2zM1150 404h2v1h-2zM1149 405h1v1h-1zM1147 406h2v1h-2zM1145 407h2v1h-2zM1143 408h2v1h-2zM1141 409h2v1h-2zM1139 410h2v1h-2zM1136 411h3v1h-3zM1133 412h3v1h-3zM1131 413h2v1h-2zM1128 414h3v1h-3zM1126 415h2v1h-2zM1124 416h2v1h-2zM1122 417h2v1h-2zM1120 418h2v1h-2zM1118 419h2v1h-2zM1116 420h2v1h-2zM1114 421h2v1h-2zM1112 422h2v1h-2zM1110 423h2v1h-2zM1108 424h2v1h-2zM1106 425h2v1h-2zM1103 426h3v1h-3zM1101 427h2v1h-2zM1099 428h2v1h-2zM1097 429h2v1h-2zM1094 430h3v1h-3zM1092 431h2v1h-2zM1090 432h2v1h-2zM1087 433h3v1h-3zM1085 434h2v1h-2zM1083 435h2v1h-2zM1081 436h2v1h-2zM1078 437h3v1h-3zM1076 438h2v1h-2zM1074 439h2v1h-2zM1072 440h2v1h-2zM1070 441h2v1h-2zM1068 442h2v1h-2zM1066 443h2v1h-2zM1064 444h2v1h-2zM1062 445h2v1h-2zM1060 446h2v1h-2zM1058 447h2v1h-2zM1056 448h2v1h-2zM1053 449h3v1h-3zM1050 450h3v1h-3zM1047 451h3v1h-3zM1044 452h3v1h-3zM1041 453h3v1h-3zM1038 454h3v1h-3zM1035 455h3v1h-3zM1032 456h3v1h-3zM1029 457h3v1h-3zM1025 458h4v1h-4zM1022 459h3v1h-3zM1018 460h4v1h-4zM1014 461h4v1h-4zM1011 462h3v1h-3zM1008 463h3v1h-3zM1005 464h3v1h-3zM1002 465h3v1h-3zM998 466h4v1h-4zM995 467h3v1h-3zM992 468h3v1h-3zM989 469h3v1h-3zM985 470h4v1h-4zM981 471h4v1h-4zM977 472h4v1h-4zM973 473h4v1h-4zM968 474h5v1h-5zM963 475h5v1h-5zM958 476h5v1h-5zM953 477h5v1h-5zM948 478h5v1h-5zM943 479h5v1h-5zM938 480h5v1h-5zM933 481h5v1h-5zM928 482h5v1h-5zM923 483h5v1h-5zM916 484h7v1h-7zM906 485h10v1h-10zM896 486h10v1h-10zM883 487h13v1h-13zM868 488h15v1h-15zM859 489h9v1h-9zM855 490h4v1h-4zM851 491h4v1h-4zM832 492h19v1h-19zM828 493h4v1h-4zM808 494h20v1h-20zM802 495h6v1h-6zM796 496h6v1h-6zM788 497h8v1h-8zM778 498h10v1h-10zM768 499h10v1h-10zM758 500h10v1h-10zM750 501h8v1h-8zM742 502h8v1h-8zM732 503h10v1h-10zM722 504h10v1h-10zM711 505h11v1h-11zM702 506h9v1h-9zM696 507h6v1h-6zM690 508h6v1h-6zM684 509h6v1h-6zM678 510h6v1h-6zM670 511h8v1h-8zM660 512h10v1h-10zM647 513h13v1h-13zM632 514h15v1h-15zM620 515h12v1h-12zM610 516h10v1h-10zM601 517h9v1h-9zM595 518h6v1h-6zM588 519h7v1h-7zM577 520h11v1h-11zM562 521h15v1h-15zM551 522h11v1h-11zM545 523h6v1h-6zM539 524h6v1h-6zM533 525h6v1h-6zM527 526h6v1h-6zM521 527h6v1h-6zM515 528h6v1h-6zM509 529h6v1h-6zM504 530h5v1h-5zM498 531h6v1h-6zM492 532h6v1h-6zM486 533h6v1h-6zM480 534h6v1h-6zM473 535h7v1h-7zM467 536h6v1h-6zM460 537h7v1h-7zM447 538h13v1h-13zM434 539h13v1h-13zM428 540h6v1h-6zM415 541h13v1h-13zM396 542h19v1h-19zM380 543h16v1h-16zM368 544h12v1h-12zM351 545h17v1h-17zM336 546h15v1h-15zM326 547h10v1h-10zM315 548h11v1h-11zM304 549h11v1h-11zM295 550h9v1h-9zM287 551h8v1h-8zM280 552h7v1h-7zM272 553h8v1h-8zM266 554h6v1h-6zM261 555h5v1h-5zM256 556h5v1h-5zM251 557h5v1h-5zM246 558h5v1h-5zM241 559h5v1h-5zM236 560h5v1h-5zM230 561h6v1h-6zM224 562h6v1h-6zM218 563h6v1h-6zM212 564h6v1h-6zM206 565h6v1h-6zM201 566h5v1h-5zM196 567h5v1h-5zM191 568h5v1h-5zM185 569h6v1h-6zM180 570h5v1h-5zM175 571h5v1h-5zM169 572h6v1h-6zM163 573h6v1h-6zM156 574h7v1h-7zM149 575h7v1h-7zM143 576h6v1h-6zM138 577h5v1h-5zM132 578h6v1h-6zM127 579h5v1h-5zM122 580h5v1h-5zM116 581h6v1h-6zM109 582h7v1h-7zM101 583h8v1h-8zM96 584h5v1h-5zM90 585h6v1h-6zM84 586h6v1h-6zM77 587h7v1h-7zM70 588h7v1h-7zM62 589h8v1h-8zM50 590h12v1h-12zM39 591h11v1h-11zM34 592h5v1h-5zM28 593h6v1h-6zM9 594h19v1h-19z" fill="#ff00ff" shape-rendering="crispEdges"/>
<path d="M1658 381h4v1h-4zM1651 382h7v1h-7zM1643 383h8v1h-8zM1636 384h7v1h-7zM1630 385h6v1h-6zM1624 386h6v1h-6zM1618 387h6v1h-6zM1613 388h5v1h-5zM1610 389h3v1h-3zM1607 390h3v1h-3zM1603 391h4v1h-4zM1600 392h3v1h-3zM1596 393h4v1h-4zM1592 394h4v1h-4zM1588 395h4v1h-4zM1585 396h3v1h-3zM1582 397h3v1h-3zM1578 398h4v1h-4zM1575 399h3v1h-3zM1572 400h3v1h-3zM1567 401h5v1h-5zM1561 402h6v1h-6zM1555 403h6v1h-6zM1549 404h6v1h-6zM1543 405h6v1h-6zM1538 406h5v1h-5zM1535 407h3v1h-3zM1532 408h3v1h-3zM1529 409h3v1h-3zM1526 410h3v1h-3zM1523 411h3v1h-3zM1520 412h3v1h-3zM1517 413h3v1h-3zM1513 414h4v1h-4zM1510 415h3v1h-3zM1507 416h3v1h-3zM1504 417h3v1h-3zM1501 418h3v1h-3zM1498 419h3v1h-3zM1495 420h3v1h-3zM1492 421h3v1h-3zM1489 422h3v1h-3zM1485 423h4v1h-4zM1482 424h3v1h-3zM1478 425h4v1h-4zM1474 426h4v1h-4zM1471 427h3v1h-3zM1467 428h4v1h-4zM1464 429h3v1h-3zM1460 430h4v1h-4zM1457 431h3v1h-3zM1453 432h4v1h-4zM1449 433h4v1h-4zM1446 434h3v1h-3zM1442 435h4v1h-4zM1439 436h3v1h-3zM1436 437h3v1h-3zM1433 438h3v1h-3zM1430 439h3v1h-3zM1427 440h3v1h-3zM1424 441h3v1h-3zM1421 442h3v1h-3zM1418 443h3v1h-3zM1416 444h2v1h-2zM1413 445h3v1h-3zM1410 446h3v1h-3zM1407 447h3v1h-3zM1404 448h3v1h-3zM1401 449h3v1h-3zM1398 450h3v1h-3zM1395 451h3v1h-3zM1392 452h3v1h-3zM1388 453h4v1h-4zM1384 454h4v1h-4zM1380 455h4v1h-4zM1376 456h4v1h-4zM1372 457h4v1h-4zM1368 458h4v1h-4zM1363 459h5v1h-5zM1359 460h4v1h-4zM1355 461h4v1h-4zM1351 462h4v1h-4zM1347 463h4v1h-4zM1343 464h4v1h-4zM1339 465h4v1h-4zM1335 466h4v1h-4zM1331 467h4v1h-4zM1327 468h4v1h-4zM1323 469h4v1h-4zM1319 470h4v1h-4zM1316 471h3v1h-3zM1312 472h4v1h-4zM1308 473h4v1h-4zM1304 474h4v1h-4zM1300 475h4v1h-4zM1296 476h4v1h-4zM1292 477h4v1h-4zM1288 478h4v1h-4zM1284 479h4v1h-4zM1280 480h4v1h-4zM1276 481h4v1h-4zM1271 482h5v1h-5zM1267 483h4v1h-4zM1263 484h4v1h-4zM1258 485h5v1h-5zM1254 486h4v1h-4zM1249 487h5v1h-5zM1245 488h4v1h-4zM1241 489h4v1h-4zM1236 490h5v1h-5zM1232 491h4v1h-4zM1227 492h5v1h-5zM1223 493h4v1h-4zM1219 494h4v1h-4zM1215 495h4v1h-4zM1211 496h4v1h-4zM1207 497h4v1h-4zM1202 498h5v1h-5zM1198 499h4v1h-4zM1194 500h4v1h-4zM1190 501h4v1h-4zM1186 502h4v1h-4zM1182 503h4v1h-4zM1177 504h5v1h-5zM1173 505h4v1h-4zM1168 506h5v1h-5zM1164 507h4v1h-4zM1159 508h5v1h-5zM1155 509h4v1h-4zM1150 510h5v1h-5zM1145 511h5v1h-5zM1141 512h4v1h-4zM1136 513h5v1h-5zM1132 514h4v1h-4zM1127 515h5v1h-5zM1122 516h5v1h-5zM1117 517h5v1h-5zM1112 518h5v1h-5zM1107 519h5v1h-5zM1102 520h5v1h-5zM1097 521h5v1h-5zM1092 522h5v1h-5zM1087 523h5v1h-5zM1082 524h5v1h-5zM1077 525h5v1h-5zM1072 526h5v1h-5zM1067 527h5v1h-5zM1062 528h5v1h-5zM1057 529h5v1h-5zM1053 530h4v1h-4zM1048 531h5v1h-5zM1043 532h5v1h-5zM1038 533h5v1h-5zM1033 534h5v1h-5zM1028 535h5v1h-5zM1022 536h6v1h-6zM1017 537h5v1h-5zM1011 538h6v1h-6zM1006 539h5v1h-5zM1000 540h6v1h-6zM994 541h6v1h-6zM989 542h5v1h-5zM983 543h6v1h-6zM977 544h6v1h-6zM971 545h6v1h-6zM965 546h6v1h-6zM959 547h6v1h-6zM952 548h7v1h-7zM946 549h6v1h-6zM940 550h6v1h-6zM934 551h6v1h-6zM927 552h7v1h-7zM920 553h7v1h-7zM913 554h7v1h-7zM906 555h7v1h-7zM898 556h8v1h-8zM891 557h7v1h-7zM884 558h7v1h-7zM876 559h8v1h-8zM866 560h10v1h-10zM856 561h10v1h-10zM846 562h10v1h-10zM836 563h10v1h-10zM823 564h13v1h-13zM807 565h16v1h-16zM793 566h14v1h-14zM781 567h12v1h-12zM768 568h13v1h-13zM756 569h12v1h-12zM743 570h13v1h-13zM731 571h12v1h-12zM718 572h13v1h-13zM706 573h12v1h-12zM693 574h13v1h-13zM681 575h12v1h-12zM668 576h13v1h-13zM656 577h12v1h-12zM643 578h13v1h-13zM631 579h12v1h-12zM619 580h12v1h-12zM607 581h12v1h-12zM594 582h13v1h-13zM582 583h12v1h-12zM569 584h13v1h-13zM557 585h12v1h-12zM544 586h13v1h-13zM532 587h12v1h-12zM519 588h13v1h-13zM507 589h12v1h-12zM493 590h14v1h-14zM479 591h14v1h-14zM465 592h14v1h-14zM442 593h23v1h-23zM425 594h17v1h-17z" fill="#ff0000" shape-rendering="crispEdges"/>
<g shape-rendering="crispEdges">
<rect x="5" y="314" width="1680" height="1" fill="#7f8fa0"/>
<rect x="5" y="210" width="1680" height="2" fill="#ff0000"/>
<rect x="4" y="208" width="6" height="6" fill="#ff0000"/>
<rect x="6" y="210" width="2" height="2" fill="#fff"/>
<rect x="1679" y="208" width="6" height="6" fill="#ff0000"/>
<rect x="1681" y="210" width="2" height="2" fill="#fff"/>
<rect x="5" y="257" width="1680" height="2" fill="#ff0000"/>
<rect x="4" y="255" width="6" height="6" fill="#ff0000"/>
<rect x="6" y="257" width="2" height="2" fill="#fff"/>
<rect x="1679" y="255" width="6" height="6" fill="#ff0000"/>
<rect x="1681" y="257" width="2" height="2" fill="#fff"/>
<rect x="5" y="321" width="1680" height="2" fill="#32cd32"/>
<rect x="4" y="319" width="6" height="6" fill="#32cd32"/>
<rect x="6" y="321" width="2" height="2" fill="#fff"/>
<rect x="1679" y="319" width="6" height="6" fill="#32cd32"/>
<rect x="1681" y="321" width="2" height="2" fill="#fff"/>
<rect x="5" y="393" width="1680" height="2" fill="#2c5ad8"/>
<rect x="4" y="391" width="6" height="6" fill="#2c5ad8"/>
<rect x="6" y="393" width="2" height="2" fill="#fff"/>
<rect x="1679" y="391" width="6" height="6" fill="#2c5ad8"/>
<rect x="1681" y="393" width="2" height="2" fill="#fff"/>
<rect x="5" y="465" width="1680" height="2" fill="#2c5ad8"/>
<rect x="4" y="463" width="6" height="6" fill="#2c5ad8"/>
<rect x="6" y="465" width="2" height="2" fill="#fff"/>
<rect x="1679" y="463" width="6" height="6" fill="#2c5ad8"/>
<rect x="1681" y="465" width="2" height="2" fill="#fff"/>
<rect x="4" y="32" width="1" height="564" fill="#000"/>
<rect x="4" y="208" width="6" height="6" fill="#ff0000"/>
<rect x="6" y="210" width="2" height="2" fill="#fff"/>
<rect x="4" y="255" width="6" height="6" fill="#ff0000"/>
<rect x="6" y="257" width="2" height="2" fill="#fff"/>
<rect x="4" y="319" width="6" height="6" fill="#32cd32"/>
<rect x="6" y="321" width="2" height="2" fill="#fff"/>
<rect x="4" y="391" width="6" height="6" fill="#2c5ad8"/>
<rect x="6" y="393" width="2" height="2" fill="#fff"/>
<rect x="4" y="463" width="6" height="6" fill="#2c5ad8"/>
<rect x="6" y="465" width="2" height="2" fill="#fff"/>
<rect x="1686" y="64" width="2" height="1" fill="#000"/>
<rect x="1686" y="97" width="2" height="1" fill="#000"/>
<rect x="1686" y="130" width="2" height="1" fill="#000"/>
<rect x="1686" y="163" width="2" height="1" fill="#000"/>
<rect x="1686" y="196" width="2" height="1" fill="#000"/>
<rect x="1686" y="229" width="2" height="1" fill="#000"/>
<rect x="1686" y="262" width="2" height="1" fill="#000"/>
<rect x="1686" y="295" width="2" height="1" fill="#000"/>
<rect x="1686" y="328" width="2" height="1" fill="#000"/>
<rect x="1686" y="361" width="2" height="1" fill="#000"/>
<rect x="1686" y="394" width="2" height="1" fill="#000"/>
<rect x="1686" y="427" width="2" height="1" fill="#000"/>
<rect x="1686" y="460" width="2" height="1" fill="#000"/>
<rect x="1686" y="493" width="2" height="1" fill="#000"/>
<rect x="1686" y="526" width="2" height="1" fill="#000"/>
<rect x="1686" y="559" width="2" height="1" fill="#000"/>
<rect x="1686" y="592" width="2" height="1" fill="#000"/>
</g>
<text x="1691.5" y="68" font-size="10" fill="#000" textLength="32.8" lengthAdjust="spacingAndGlyphs" text-rendering="geometricPrecision" xml:space="preserve">2072.10</text>
<text x="1691.5" y="101" font-size="10" fill="#000" textLength="32.8" lengthAdjust="spacingAndGlyphs" text-rendering="geometricPrecision" xml:space="preserve">2051.10</text>
<text x="1691.5" y="134" font-size="10" fill="#000" textLength="32.8" lengthAdjust="spacingAndGlyphs" text-rendering="geometricPrecision" xml:space="preserve">2030.70</text>
<text x="1691.5" y="167" font-size="10" fill="#000" textLength="32.8" lengthAdjust="spacingAndGlyphs" text-rendering="geometricPrecision" xml:space="preserve">2009.70</text>
<text x="1691.5" y="200" font-size="10" fill="#000" textLength="32.8" lengthAdjust="spacingAndGlyphs" text-rendering="geometricPrecision" xml:space="preserve">1989.30</text>
<text x="1691.5" y="233" font-size="10" fill="#000" textLength="32.8" lengthAdjust="spacingAndGlyphs" text-rendering="geometricPrecision" xml:space="preserve">1968.30</text>
<text x="1691.5" y="266" font-size="10" fill="#000" textLength="32.8" lengthAdjust="spacingAndGlyphs" text-rendering="geometricPrecision" xml:space="preserve">1947.50</text>
<text x="1691.5" y="299" font-size="10" fill="#000" textLength="32.8" lengthAdjust="spacingAndGlyphs" text-rendering="geometricPrecision" xml:space="preserve">1926.90</text>
<text x="1691.5" y="332" font-size="10" fill="#000" textLength="32.8" lengthAdjust="spacingAndGlyphs" text-rendering="geometricPrecision" xml:space="preserve">1906.50</text>
<text x="1691.5" y="365" font-size="10" fill="#000" textLength="32.8" lengthAdjust="spacingAndGlyphs" text-rendering="geometricPrecision" xml:space="preserve">1885.50</text>
<text x="1691.5" y="398" font-size="10" fill="#000" textLength="32.8" lengthAdjust="spacingAndGlyphs" text-rendering="geometricPrecision" xml:space="preserve">1864.80</text>
<text x="1691.5" y="431" font-size="10" fill="#000" textLength="32.8" lengthAdjust="spacingAndGlyphs" text-rendering="geometricPrecision" xml:space="preserve">1844.10</text>
<text x="1691.5" y="464" font-size="10" fill="#000" textLength="32.8" lengthAdjust="spacingAndGlyphs" text-rendering="geometricPrecision" xml:space="preserve">1823.70</text>
<text x="1691.5" y="497" font-size="10" fill="#000" textLength="32.8" lengthAdjust="spacingAndGlyphs" text-rendering="geometricPrecision" xml:space="preserve">1802.70</text>
<text x="1691.5" y="530" font-size="10" fill="#000" textLength="32.8" lengthAdjust="spacingAndGlyphs" text-rendering="geometricPrecision" xml:space="preserve">1782.30</text>
<text x="1691.5" y="563" font-size="10" fill="#000" textLength="32.8" lengthAdjust="spacingAndGlyphs" text-rendering="geometricPrecision" xml:space="preserve">1761.30</text>
<text x="1691.5" y="596" font-size="10" fill="#000" textLength="32.8" lengthAdjust="spacingAndGlyphs" text-rendering="geometricPrecision" xml:space="preserve">1740.90</text>
<g shape-rendering="crispEdges">
<rect x="1687" y="309" width="37" height="11" fill="#000"/>
</g>
<text x="1691.5" y="318" font-size="10" fill="#fff" textLength="32.8" lengthAdjust="spacingAndGlyphs" text-rendering="geometricPrecision" xml:space="preserve">1914.94</text>
<g shape-rendering="crispEdges">
<rect x="1687" y="205" width="37" height="11" fill="#ff0000"/>
<rect x="1687" y="252" width="37" height="11" fill="#ff0000"/>
<rect x="1687" y="316" width="37" height="11" fill="#32cd32"/>
<rect x="1687" y="388" width="37" height="11" fill="#2c5ad8"/>
<rect x="1687" y="460" width="37" height="11" fill="#2c5ad8"/>
</g>
<text x="1691.5" y="214" font-size="10" fill="#fff" textLength="32.8" lengthAdjust="spacingAndGlyphs" text-rendering="geometricPrecision" xml:space="preserve">1980.00</text>
<text x="1691.5" y="261" font-size="10" fill="#fff" textLength="32.8" lengthAdjust="spacingAndGlyphs" text-rendering="geometricPrecision" xml:space="preserve">1950.17</text>
<text x="1691.5" y="325" font-size="10" fill="#fff" textLength="32.8" lengthAdjust="spacingAndGlyphs" text-rendering="geometricPrecision" xml:space="preserve">1910.00</text>
<text x="1691.5" y="397" font-size="10" fill="#fff" textLength="32.8" lengthAdjust="spacingAndGlyphs" text-rendering="geometricPrecision" xml:space="preserve">1865.00</text>
<text x="1691.5" y="469" font-size="10" fill="#fff" textLength="32.8" lengthAdjust="spacingAndGlyphs" text-rendering="geometricPrecision" xml:space="preserve">1820.00</text>
<path d="M8 39h7l-3.5 4z" fill="#000" shape-rendering="crispEdges"/>
<text x="19.8" y="44" font-size="10" fill="#000" textLength="57" lengthAdjust="spacingAndGlyphs" text-rendering="geometricPrecision" xml:space="preserve">XAUUSD-,H4</text>
<text x="83.2" y="44" font-size="10" fill="#000" textLength="32.4" lengthAdjust="spacingAndGlyphs" text-rendering="geometricPrecision" xml:space="preserve">1910.00</text>
<text x="119.2" y="44" font-size="10" fill="#000" textLength="32.4" lengthAdjust="spacingAndGlyphs" text-rendering="geometricPrecision" xml:space="preserve">1915.29</text>
<text x="155.2" y="44" font-size="10" fill="#000" textLength="32.4" lengthAdjust="spacingAndGlyphs" text-rendering="geometricPrecision" xml:space="preserve">1909.83</text>
<text x="191.2" y="44" font-size="10" fill="#000" textLength="32.4" lengthAdjust="spacingAndGlyphs" text-rendering="geometricPrecision" xml:space="preserve">1914.94</text>
<text x="723.5" y="139.5" font-size="37.5" fill="#e8161c" textLength="182" lengthAdjust="spacingAndGlyphs" style="font-family:'Liberation Sans','Noto Sans CJK SC',sans-serif">多空转折点</text>
<text x="906" y="138.4" font-size="38.5" fill="#e8161c" textLength="84" lengthAdjust="spacingAndGlyphs" style="font-family:'Liberation Sans','Noto Sans CJK SC',sans-serif">1910</text>
<g shape-rendering="crispEdges">
<rect x="5" y="655" width="1" height="24" fill="#c0c0c0"/>
<rect x="13" y="656" width="1" height="23" fill="#c0c0c0"/>
<rect x="21" y="657" width="1" height="22" fill="#c0c0c0"/>
<rect x="29" y="658" width="1" height="21" fill="#c0c0c0"/>
<rect x="37" y="661" width="1" height="18" fill="#c0c0c0"/>
<rect x="45" y="663" width="1" height="16" fill="#c0c0c0"/>
<rect x="53" y="664" width="1" height="15" fill="#c0c0c0"/>
<rect x="61" y="664" width="1" height="15" fill="#c0c0c0"/>
<rect x="69" y="666" width="1" height="13" fill="#c0c0c0"/>
<rect x="77" y="667" width="1" height="12" fill="#c0c0c0"/>
<rect x="85" y="668" width="1" height="11" fill="#c0c0c0"/>
<rect x="93" y="668" width="1" height="11" fill="#c0c0c0"/>
<rect x="101" y="668" width="1" height="11" fill="#c0c0c0"/>
<rect x="109" y="667" width="1" height="12" fill="#c0c0c0"/>
<rect x="117" y="667" width="1" height="12" fill="#c0c0c0"/>
<rect x="125" y="667" width="1" height="12" fill="#c0c0c0"/>
<rect x="133" y="667" width="1" height="12" fill="#c0c0c0"/>
<rect x="141" y="667" width="1" height="12" fill="#c0c0c0"/>
<rect x="149" y="667" width="1" height="12" fill="#c0c0c0"/>
<rect x="157" y="667" width="1" height="12" fill="#c0c0c0"/>
<rect x="165" y="668" width="1" height="11" fill="#c0c0c0"/>
<rect x="173" y="668" width="1" height="11" fill="#c0c0c0"/>
<rect x="181" y="669" width="1" height="10" fill="#c0c0c0"/>
<rect x="189" y="667" width="1" height="12" fill="#c0c0c0"/>
<rect x="197" y="667" width="1" height="12" fill="#c0c0c0"/>
<rect x="205" y="665" width="1" height="14" fill="#c0c0c0"/>
<rect x="213" y="664" width="1" height="15" fill="#c0c0c0"/>
<rect x="221" y="663" width="1" height="16" fill="#c0c0c0"/>
<rect x="229" y="663" width="1" height="16" fill="#c0c0c0"/>
<rect x="237" y="667" width="1" height="12" fill="#c0c0c0"/>
<rect x="245" y="668" width="1" height="11" fill="#c0c0c0"/>
<rect x="253" y="671" width="1" height="8" fill="#c0c0c0"/>
<rect x="261" y="673" width="1" height="6" fill="#c0c0c0"/>
<rect x="269" y="674" width="1" height="5" fill="#c0c0c0"/>
<rect x="277" y="674" width="1" height="5" fill="#c0c0c0"/>
<rect x="285" y="674" width="1" height="5" fill="#c0c0c0"/>
<rect x="293" y="674" width="1" height="5" fill="#c0c0c0"/>
<rect x="301" y="674" width="1" height="5" fill="#c0c0c0"/>
<rect x="309" y="674" width="1" height="5" fill="#c0c0c0"/>
<rect x="317" y="674" width="1" height="5" fill="#c0c0c0"/>
<rect x="325" y="674" width="1" height="5" fill="#c0c0c0"/>
<rect x="333" y="674" width="1" height="5" fill="#c0c0c0"/>
<rect x="341" y="675" width="1" height="4" fill="#c0c0c0"/>
<rect x="349" y="675" width="1" height="4" fill="#c0c0c0"/>
<rect x="357" y="676" width="1" height="3" fill="#c0c0c0"/>
<rect x="365" y="676" width="1" height="3" fill="#c0c0c0"/>
<rect x="373" y="675" width="1" height="4" fill="#c0c0c0"/>
<rect x="381" y="674" width="1" height="5" fill="#c0c0c0"/>
<rect x="389" y="672" width="1" height="7" fill="#c0c0c0"/>
<rect x="397" y="671" width="1" height="8" fill="#c0c0c0"/>
<rect x="405" y="670" width="1" height="9" fill="#c0c0c0"/>
<rect x="413" y="671" width="1" height="8" fill="#c0c0c0"/>
<rect x="421" y="672" width="1" height="7" fill="#c0c0c0"/>
<rect x="429" y="669" width="1" height="10" fill="#c0c0c0"/>
<rect x="437" y="667" width="1" height="12" fill="#c0c0c0"/>
<rect x="445" y="666" width="1" height="13" fill="#c0c0c0"/>
<rect x="453" y="665" width="1" height="14" fill="#c0c0c0"/>
<rect x="461" y="664" width="1" height="15" fill="#c0c0c0"/>
<rect x="469" y="662" width="1" height="17" fill="#c0c0c0"/>
<rect x="477" y="659" width="1" height="20" fill="#c0c0c0"/>
<rect x="485" y="657" width="1" height="22" fill="#c0c0c0"/>
<rect x="493" y="656" width="1" height="23" fill="#c0c0c0"/>
<rect x="501" y="656" width="1" height="23" fill="#c0c0c0"/>
<rect x="509" y="655" width="1" height="24" fill="#c0c0c0"/>
<rect x="517" y="655" width="1" height="24" fill="#c0c0c0"/>
<rect x="525" y="657" width="1" height="22" fill="#c0c0c0"/>
<rect x="533" y="659" width="1" height="20" fill="#c0c0c0"/>
<rect x="541" y="660" width="1" height="19" fill="#c0c0c0"/>
<rect x="549" y="662" width="1" height="17" fill="#c0c0c0"/>
<rect x="557" y="664" width="1" height="15" fill="#c0c0c0"/>
<rect x="565" y="664" width="1" height="15" fill="#c0c0c0"/>
<rect x="573" y="666" width="1" height="13" fill="#c0c0c0"/>
<rect x="581" y="668" width="1" height="11" fill="#c0c0c0"/>
<rect x="589" y="669" width="1" height="10" fill="#c0c0c0"/>
<rect x="597" y="669" width="1" height="10" fill="#c0c0c0"/>
<rect x="605" y="669" width="1" height="10" fill="#c0c0c0"/>
<rect x="613" y="668" width="1" height="11" fill="#c0c0c0"/>
<rect x="621" y="668" width="1" height="11" fill="#c0c0c0"/>
<rect x="629" y="669" width="1" height="10" fill="#c0c0c0"/>
<rect x="637" y="670" width="1" height="9" fill="#c0c0c0"/>
<rect x="645" y="672" width="1" height="7" fill="#c0c0c0"/>
<rect x="653" y="673" width="1" height="6" fill="#c0c0c0"/>
<rect x="661" y="674" width="1" height="5" fill="#c0c0c0"/>
<rect x="669" y="673" width="1" height="6" fill="#c0c0c0"/>
<rect x="677" y="672" width="1" height="7" fill="#c0c0c0"/>
<rect x="685" y="671" width="1" height="8" fill="#c0c0c0"/>
<rect x="693" y="671" width="1" height="8" fill="#c0c0c0"/>
<rect x="701" y="670" width="1" height="9" fill="#c0c0c0"/>
<rect x="709" y="671" width="1" height="8" fill="#c0c0c0"/>
<rect x="717" y="671" width="1" height="8" fill="#c0c0c0"/>
<rect x="725" y="670" width="1" height="9" fill="#c0c0c0"/>
<rect x="733" y="670" width="1" height="9" fill="#c0c0c0"/>
<rect x="741" y="670" width="1" height="9" fill="#c0c0c0"/>
<rect x="749" y="671" width="1" height="8" fill="#c0c0c0"/>
<rect x="757" y="673" width="1" height="6" fill="#c0c0c0"/>
<rect x="765" y="673" width="1" height="6" fill="#c0c0c0"/>
<rect x="773" y="676" width="1" height="3" fill="#c0c0c0"/>
<rect x="781" y="678" width="1" height="1" fill="#c0c0c0"/>
<rect x="797" y="678" width="1" height="1" fill="#c0c0c0"/>
<rect x="813" y="678" width="1" height="1" fill="#c0c0c0"/>
<rect x="821" y="677" width="1" height="2" fill="#c0c0c0"/>
<rect x="829" y="676" width="1" height="3" fill="#c0c0c0"/>
<rect x="837" y="676" width="1" height="3" fill="#c0c0c0"/>
<rect x="845" y="675" width="1" height="4" fill="#c0c0c0"/>
<rect x="853" y="674" width="1" height="5" fill="#c0c0c0"/>
<rect x="861" y="673" width="1" height="6" fill="#c0c0c0"/>
<rect x="869" y="671" width="1" height="8" fill="#c0c0c0"/>
<rect x="877" y="670" width="1" height="9" fill="#c0c0c0"/>
<rect x="885" y="669" width="1" height="10" fill="#c0c0c0"/>
<rect x="893" y="668" width="1" height="11" fill="#c0c0c0"/>
<rect x="901" y="666" width="1" height="13" fill="#c0c0c0"/>
<rect x="909" y="662" width="1" height="17" fill="#c0c0c0"/>
<rect x="917" y="659" width="1" height="20" fill="#c0c0c0"/>
<rect x="925" y="656" width="1" height="23" fill="#c0c0c0"/>
<rect x="933" y="652" width="1" height="27" fill="#c0c0c0"/>
<rect x="941" y="649" width="1" height="30" fill="#c0c0c0"/>
<rect x="949" y="646" width="1" height="33" fill="#c0c0c0"/>
<rect x="957" y="643" width="1" height="36" fill="#c0c0c0"/>
<rect x="965" y="640" width="1" height="39" fill="#c0c0c0"/>
<rect x="973" y="638" width="1" height="41" fill="#c0c0c0"/>
<rect x="981" y="637" width="1" height="42" fill="#c0c0c0"/>
<rect x="989" y="635" width="1" height="44" fill="#c0c0c0"/>
<rect x="997" y="634" width="1" height="45" fill="#c0c0c0"/>
<rect x="1005" y="630" width="1" height="49" fill="#c0c0c0"/>
<rect x="1013" y="629" width="1" height="50" fill="#c0c0c0"/>
<rect x="1021" y="629" width="1" height="50" fill="#c0c0c0"/>
<rect x="1029" y="629" width="1" height="50" fill="#c0c0c0"/>
<rect x="1037" y="628" width="1" height="51" fill="#c0c0c0"/>
<rect x="1045" y="628" width="1" height="51" fill="#c0c0c0"/>
<rect x="1053" y="628" width="1" height="51" fill="#c0c0c0"/>
<rect x="1061" y="628" width="1" height="51" fill="#c0c0c0"/>
<rect x="1069" y="627" width="1" height="52" fill="#c0c0c0"/>
<rect x="1077" y="621" width="1" height="58" fill="#c0c0c0"/>
<rect x="1085" y="617" width="1" height="62" fill="#c0c0c0"/>
<rect x="1093" y="614" width="1" height="65" fill="#c0c0c0"/>
<rect x="1101" y="612" width="1" height="67" fill="#c0c0c0"/>
<rect x="1109" y="612" width="1" height="67" fill="#c0c0c0"/>
<rect x="1117" y="607" width="1" height="72" fill="#c0c0c0"/>
<rect x="1125" y="608" width="1" height="71" fill="#c0c0c0"/>
<rect x="1133" y="616" width="1" height="63" fill="#c0c0c0"/>
<rect x="1141" y="620" width="1" height="59" fill="#c0c0c0"/>
<rect x="1149" y="618" width="1" height="61" fill="#c0c0c0"/>
<rect x="1157" y="617" width="1" height="62" fill="#c0c0c0"/>
<rect x="1165" y="617" width="1" height="62" fill="#c0c0c0"/>
<rect x="1173" y="619" width="1" height="60" fill="#c0c0c0"/>
<rect x="1181" y="619" width="1" height="60" fill="#c0c0c0"/>
<rect x="1189" y="621" width="1" height="58" fill="#c0c0c0"/>
<rect x="1197" y="622" width="1" height="57" fill="#c0c0c0"/>
<rect x="1205" y="622" width="1" height="57" fill="#c0c0c0"/>
<rect x="1213" y="622" width="1" height="57" fill="#c0c0c0"/>
<rect x="1221" y="624" width="1" height="55" fill="#c0c0c0"/>
<rect x="1229" y="628" width="1" height="51" fill="#c0c0c0"/>
<rect x="1237" y="632" width="1" height="47" fill="#c0c0c0"/>
<rect x="1245" y="637" width="1" height="42" fill="#c0c0c0"/>
<rect x="1253" y="639" width="1" height="40" fill="#c0c0c0"/>
<rect x="1261" y="642" width="1" height="37" fill="#c0c0c0"/>
<rect x="1269" y="641" width="1" height="38" fill="#c0c0c0"/>
<rect x="1277" y="640" width="1" height="39" fill="#c0c0c0"/>
<rect x="1285" y="640" width="1" height="39" fill="#c0c0c0"/>
<rect x="1293" y="640" width="1" height="39" fill="#c0c0c0"/>
<rect x="1301" y="642" width="1" height="37" fill="#c0c0c0"/>
<rect x="1309" y="641" width="1" height="38" fill="#c0c0c0"/>
<rect x="1317" y="642" width="1" height="37" fill="#c0c0c0"/>
<rect x="1325" y="644" width="1" height="35" fill="#c0c0c0"/>
<rect x="1333" y="646" width="1" height="33" fill="#c0c0c0"/>
<rect x="1341" y="649" width="1" height="30" fill="#c0c0c0"/>
<rect x="1349" y="650" width="1" height="29" fill="#c0c0c0"/>
<rect x="1357" y="651" width="1" height="28" fill="#c0c0c0"/>
<rect x="1365" y="652" width="1" height="27" fill="#c0c0c0"/>
<rect x="1373" y="653" width="1" height="26" fill="#c0c0c0"/>
<rect x="1381" y="655" width="1" height="24" fill="#c0c0c0"/>
<rect x="1389" y="652" width="1" height="27" fill="#c0c0c0"/>
<rect x="1397" y="645" width="1" height="34" fill="#c0c0c0"/>
<rect x="1405" y="638" width="1" height="41" fill="#c0c0c0"/>
<rect x="1413" y="636" width="1" height="43" fill="#c0c0c0"/>
<rect x="1421" y="630" width="1" height="49" fill="#c0c0c0"/>
<rect x="1429" y="625" width="1" height="54" fill="#c0c0c0"/>
<rect x="1437" y="621" width="1" height="58" fill="#c0c0c0"/>
<rect x="1445" y="620" width="1" height="59" fill="#c0c0c0"/>
<rect x="1453" y="620" width="1" height="59" fill="#c0c0c0"/>
<rect x="1461" y="619" width="1" height="60" fill="#c0c0c0"/>
<rect x="1469" y="619" width="1" height="60" fill="#c0c0c0"/>
<rect x="1477" y="617" width="1" height="62" fill="#c0c0c0"/>
<rect x="1485" y="616" width="1" height="63" fill="#c0c0c0"/>
<rect x="1493" y="615" width="1" height="64" fill="#c0c0c0"/>
<rect x="1501" y="613" width="1" height="66" fill="#c0c0c0"/>
<rect x="1509" y="615" width="1" height="64" fill="#c0c0c0"/>
<rect x="1517" y="617" width="1" height="62" fill="#c0c0c0"/>
<rect x="1525" y="620" width="1" height="59" fill="#c0c0c0"/>
<rect x="1533" y="629" width="1" height="50" fill="#c0c0c0"/>
<rect x="1541" y="635" width="1" height="44" fill="#c0c0c0"/>
<rect x="1549" y="642" width="1" height="37" fill="#c0c0c0"/>
<rect x="1557" y="647" width="1" height="32" fill="#c0c0c0"/>
<rect x="1565" y="651" width="1" height="28" fill="#c0c0c0"/>
<rect x="1573" y="655" width="1" height="24" fill="#c0c0c0"/>
<rect x="1581" y="657" width="1" height="22" fill="#c0c0c0"/>
<rect x="1589" y="661" width="1" height="18" fill="#c0c0c0"/>
<rect x="1597" y="664" width="1" height="15" fill="#c0c0c0"/>
<rect x="1605" y="668" width="1" height="11" fill="#c0c0c0"/>
<rect x="1613" y="676" width="1" height="3" fill="#c0c0c0"/>
<rect x="1621" y="678" width="1" height="8" fill="#c0c0c0"/>
<rect x="1629" y="678" width="1" height="23" fill="#c0c0c0"/>
<rect x="1637" y="678" width="1" height="40" fill="#c0c0c0"/>
<rect x="1645" y="678" width="1" height="52" fill="#c0c0c0"/>
<rect x="1653" y="678" width="1" height="63" fill="#c0c0c0"/>
<rect x="1661" y="678" width="1" height="70" fill="#c0c0c0"/>
<rect x="1686" y="678" width="2" height="1" fill="#000"/>
<rect x="1686" y="599" width="1" height="1" fill="#000"/>
<rect x="1686" y="755" width="1" height="1" fill="#000"/>
<rect x="1686" y="760" width="1" height="1" fill="#000"/>
<rect x="1686" y="873" width="1" height="1" fill="#000"/>
</g>
<path d="M1139 613h3v1h-3zM1145 613h3v1h-3zM1151 613h3v1h-3zM1157 613h3v1h-3zM1163 613h3v1h-3zM1169 613h2v1h-2zM1133 614h3v1h-3zM1171 614h1v1h-1zM1175 614h3v1h-3zM1127 615h3v1h-3zM1181 615h3v1h-3zM1121 616h3v1h-3zM1187 616h3v1h-3zM1505 616h3v1h-3zM1511 616h3v1h-3zM1517 616h3v1h-3zM1523 616h3v1h-3zM1529 616h2v1h-2zM1116 617h2v1h-2zM1193 617h3v1h-3zM1499 617h3v1h-3zM1531 617h1v1h-1zM1535 617h2v1h-2zM1115 618h1v1h-1zM1199 618h3v1h-3zM1493 618h3v1h-3zM1537 618h1v1h-1zM1541 618h2v1h-2zM1205 619h3v1h-3zM1211 619h3v1h-3zM1217 619h3v1h-3zM1223 619h1v1h-1zM1487 619h3v1h-3zM1543 619h1v1h-1zM1109 620h3v1h-3zM1224 620h2v1h-2zM1483 620h1v1h-1zM1547 620h2v1h-2zM1103 621h3v1h-3zM1229 621h3v1h-3zM1481 621h2v1h-2zM1549 621h1v1h-1zM1097 622h3v1h-3zM1235 622h3v1h-3zM1475 622h3v1h-3zM1553 622h1v1h-1zM1091 623h3v1h-3zM1241 623h3v1h-3zM1471 623h1v1h-1zM1554 623h2v1h-2zM1247 624h2v1h-2zM1469 624h2v1h-2zM1085 625h3v1h-3zM1249 625h1v1h-1zM1559 625h2v1h-2zM1075 626h1v1h-1zM1079 626h3v1h-3zM1253 626h2v1h-2zM1463 626h3v1h-3zM1561 626h1v1h-1zM1067 627h3v1h-3zM1073 627h2v1h-2zM1255 627h1v1h-1zM1061 628h3v1h-3zM1259 628h1v1h-1zM1459 628h1v1h-1zM1565 628h1v1h-1zM1055 629h3v1h-3zM1260 629h2v1h-2zM1457 629h2v1h-2zM1566 629h2v1h-2zM1045 630h1v1h-1zM1049 630h3v1h-3zM1265 630h3v1h-3zM1037 631h3v1h-3zM1043 631h2v1h-2zM1271 631h2v1h-2zM1453 631h1v1h-1zM1571 631h1v1h-1zM1031 632h3v1h-3zM1273 632h1v1h-1zM1277 632h2v1h-2zM1451 632h2v1h-2zM1572 632h1v1h-1zM1025 633h3v1h-3zM1279 633h1v1h-1zM1283 633h1v1h-1zM1573 633h1v1h-1zM1021 634h1v1h-1zM1284 634h2v1h-2zM1447 634h1v1h-1zM1019 635h2v1h-2zM1289 635h1v1h-1zM1445 635h2v1h-2zM1577 635h1v1h-1zM1013 636h3v1h-3zM1290 636h2v1h-2zM1578 636h1v1h-1zM1009 637h1v1h-1zM1295 637h3v1h-3zM1440 637h2v1h-2zM1579 637h1v1h-1zM1007 638h2v1h-2zM1301 638h3v1h-3zM1439 638h1v1h-1zM1001 639h3v1h-3zM1307 639h3v1h-3zM1435 639h1v1h-1zM1583 639h1v1h-1zM997 640h1v1h-1zM1313 640h3v1h-3zM1319 640h3v1h-3zM1325 640h3v1h-3zM1331 640h3v1h-3zM1433 640h2v1h-2zM1584 640h1v1h-1zM995 641h2v1h-2zM1337 641h2v1h-2zM1585 641h1v1h-1zM1339 642h1v1h-1zM1343 642h3v1h-3zM1428 642h2v1h-2zM989 643h3v1h-3zM1349 643h3v1h-3zM1355 643h2v1h-2zM1427 643h1v1h-1zM1589 643h2v1h-2zM1357 644h1v1h-1zM1361 644h3v1h-3zM1423 644h1v1h-1zM1591 644h1v1h-1zM984 645h2v1h-2zM1367 645h2v1h-2zM1421 645h2v1h-2zM983 646h1v1h-1zM1369 646h1v1h-1zM1415 646h3v1h-3zM1595 646h2v1h-2zM977 647h3v1h-3zM1373 647h3v1h-3zM1379 647h1v1h-1zM1409 647h3v1h-3zM1597 647h1v1h-1zM973 648h1v1h-1zM1380 648h2v1h-2zM1385 648h3v1h-3zM1391 648h1v1h-1zM1403 648h3v1h-3zM971 649h2v1h-2zM1392 649h2v1h-2zM1397 649h3v1h-3zM1601 649h2v1h-2zM1603 650h1v1h-1zM966 651h2v1h-2zM5 652h3v1h-3zM11 652h3v1h-3zM17 652h3v1h-3zM23 652h3v1h-3zM29 652h1v1h-1zM965 652h1v1h-1zM30 653h2v1h-2zM35 653h2v1h-2zM1607 653h1v1h-1zM37 654h1v1h-1zM41 654h3v1h-3zM961 654h1v1h-1zM1608 654h2v1h-2zM47 655h3v1h-3zM959 655h2v1h-2zM53 656h3v1h-3zM528 656h2v1h-2zM533 656h3v1h-3zM539 656h3v1h-3zM545 656h3v1h-3zM551 656h3v1h-3zM1613 656h1v1h-1zM59 657h3v1h-3zM523 657h1v1h-1zM527 657h1v1h-1zM557 657h3v1h-3zM953 657h3v1h-3zM1614 657h1v1h-1zM517 658h1v1h-1zM521 658h2v1h-2zM563 658h3v1h-3zM949 658h1v1h-1zM1615 658h1v1h-1zM65 659h3v1h-3zM510 659h2v1h-2zM515 659h2v1h-2zM569 659h3v1h-3zM947 659h2v1h-2zM71 660h3v1h-3zM504 660h2v1h-2zM509 660h1v1h-1zM575 660h3v1h-3zM941 660h3v1h-3zM1619 660h1v1h-1zM77 661h3v1h-3zM83 661h1v1h-1zM499 661h1v1h-1zM503 661h1v1h-1zM581 661h3v1h-3zM1620 661h1v1h-1zM84 662h2v1h-2zM89 662h1v1h-1zM497 662h2v1h-2zM587 662h3v1h-3zM593 662h2v1h-2zM936 662h2v1h-2zM1621 662h1v1h-1zM90 663h2v1h-2zM95 663h2v1h-2zM491 663h3v1h-3zM595 663h1v1h-1zM935 663h1v1h-1zM97 664h1v1h-1zM101 664h3v1h-3zM485 664h3v1h-3zM599 664h3v1h-3zM929 664h3v1h-3zM1625 664h1v1h-1zM107 665h3v1h-3zM113 665h3v1h-3zM216 665h2v1h-2zM221 665h3v1h-3zM227 665h3v1h-3zM233 665h3v1h-3zM239 665h3v1h-3zM245 665h3v1h-3zM251 665h3v1h-3zM257 665h2v1h-2zM479 665h3v1h-3zM605 665h3v1h-3zM611 665h3v1h-3zM617 665h1v1h-1zM925 665h1v1h-1zM1626 665h2v1h-2zM119 666h3v1h-3zM125 666h3v1h-3zM131 666h3v1h-3zM137 666h3v1h-3zM143 666h3v1h-3zM149 666h3v1h-3zM155 666h3v1h-3zM161 666h3v1h-3zM167 666h3v1h-3zM173 666h3v1h-3zM179 666h3v1h-3zM185 666h3v1h-3zM191 666h3v1h-3zM197 666h3v1h-3zM203 666h3v1h-3zM209 666h3v1h-3zM215 666h1v1h-1zM259 666h1v1h-1zM263 666h3v1h-3zM269 666h3v1h-3zM275 666h1v1h-1zM467 666h3v1h-3zM473 666h3v1h-3zM618 666h2v1h-2zM923 666h2v1h-2zM276 667h2v1h-2zM461 667h3v1h-3zM623 667h3v1h-3zM629 667h1v1h-1zM917 667h3v1h-3zM455 668h3v1h-3zM630 668h2v1h-2zM635 668h3v1h-3zM641 668h3v1h-3zM647 668h3v1h-3zM653 668h3v1h-3zM913 668h1v1h-1zM281 669h3v1h-3zM445 669h1v1h-1zM449 669h3v1h-3zM659 669h3v1h-3zM665 669h3v1h-3zM907 669h1v1h-1zM911 669h2v1h-2zM1630 669h1v1h-1zM287 670h3v1h-3zM293 670h3v1h-3zM438 670h2v1h-2zM443 670h2v1h-2zM671 670h3v1h-3zM677 670h1v1h-1zM731 670h3v1h-3zM737 670h3v1h-3zM743 670h3v1h-3zM749 670h3v1h-3zM755 670h3v1h-3zM761 670h3v1h-3zM767 670h3v1h-3zM773 670h2v1h-2zM899 670h3v1h-3zM905 670h2v1h-2zM1631 670h1v1h-1zM299 671h3v1h-3zM431 671h3v1h-3zM437 671h1v1h-1zM678 671h2v1h-2zM683 671h3v1h-3zM689 671h3v1h-3zM695 671h3v1h-3zM701 671h3v1h-3zM707 671h3v1h-3zM713 671h3v1h-3zM719 671h3v1h-3zM725 671h3v1h-3zM775 671h1v1h-1zM893 671h3v1h-3zM1632 671h1v1h-1zM305 672h3v1h-3zM311 672h3v1h-3zM317 672h3v1h-3zM323 672h3v1h-3zM409 672h1v1h-1zM413 672h3v1h-3zM419 672h3v1h-3zM425 672h3v1h-3zM779 672h3v1h-3zM785 672h3v1h-3zM791 672h3v1h-3zM887 672h3v1h-3zM329 673h3v1h-3zM335 673h3v1h-3zM341 673h3v1h-3zM347 673h3v1h-3zM353 673h3v1h-3zM359 673h3v1h-3zM389 673h3v1h-3zM395 673h3v1h-3zM401 673h3v1h-3zM407 673h2v1h-2zM876 673h2v1h-2zM881 673h3v1h-3zM365 674h3v1h-3zM371 674h3v1h-3zM377 674h3v1h-3zM383 674h3v1h-3zM797 674h3v1h-3zM869 674h3v1h-3zM875 674h1v1h-1zM803 675h3v1h-3zM809 675h3v1h-3zM863 675h3v1h-3zM1636 675h1v1h-1zM815 676h3v1h-3zM821 676h3v1h-3zM827 676h3v1h-3zM833 676h3v1h-3zM852 676h2v1h-2zM857 676h3v1h-3zM1637 676h1v1h-1zM839 677h3v1h-3zM845 677h3v1h-3zM851 677h1v1h-1zM1638 677h1v1h-1zM1642 681h1v1h-1zM1643 682h1v1h-1zM1644 683h1v1h-1zM1648 687h1v1h-1zM1649 688h1v1h-1zM1650 689h1v1h-1zM1653 693h1v1h-1zM1653 694h1v1h-1zM1654 695h1v1h-1zM1658 699h1v1h-1zM1659 700h1v1h-1zM1660 701h1v1h-1z" fill="#ff0000" shape-rendering="crispEdges"/>
<text x="9.6" y="610" font-size="10" fill="#000" textLength="128.4" lengthAdjust="spacingAndGlyphs" text-rendering="geometricPrecision" xml:space="preserve">MACD(12,26,9) -26.806 -9.689</text>
<text x="1689.5" y="608" font-size="10" fill="#000" textLength="27.5" lengthAdjust="spacingAndGlyphs" text-rendering="geometricPrecision" xml:space="preserve">30.111</text>
<text x="1689.5" y="682" font-size="10" fill="#000" textLength="18.5" lengthAdjust="spacingAndGlyphs" text-rendering="geometricPrecision" xml:space="preserve">0.00</text>
<text x="1689.5" y="753" font-size="10" fill="#000" textLength="31" lengthAdjust="spacingAndGlyphs" text-rendering="geometricPrecision" xml:space="preserve">-29.516</text>
<g shape-rendering="crispEdges">
<rect x="6" y="794" width="3" height="1" fill="#c0c0c0"/>
<rect x="12" y="794" width="3" height="1" fill="#c0c0c0"/>
<rect x="18" y="794" width="3" height="1" fill="#c0c0c0"/>
<rect x="24" y="794" width="3" height="1" fill="#c0c0c0"/>
<rect x="30" y="794" width="3" height="1" fill="#c0c0c0"/>
<rect x="36" y="794" width="3" height="1" fill="#c0c0c0"/>
<rect x="42" y="794" width="3" height="1" fill="#c0c0c0"/>
<rect x="48" y="794" width="3" height="1" fill="#c0c0c0"/>
<rect x="54" y="794" width="3" height="1" fill="#c0c0c0"/>
<rect x="60" y="794" width="3" height="1" fill="#c0c0c0"/>
<rect x="66" y="794" width="3" height="1" fill="#c0c0c0"/>
<rect x="72" y="794" width="3" height="1" fill="#c0c0c0"/>
<rect x="78" y="794" width="3" height="1" fill="#c0c0c0"/>
<rect x="84" y="794" width="3" height="1" fill="#c0c0c0"/>
<rect x="90" y="794" width="3" height="1" fill="#c0c0c0"/>
<rect x="96" y="794" width="3" height="1" fill="#c0c0c0"/>
<rect x="102" y="794" width="3" height="1" fill="#c0c0c0"/>
<rect x="108" y="794" width="3" height="1" fill="#c0c0c0"/>
<rect x="114" y="794" width="3" height="1" fill="#c0c0c0"/>
<rect x="120" y="794" width="3" height="1" fill="#c0c0c0"/>
<rect x="126" y="794" width="3" height="1" fill="#c0c0c0"/>
<rect x="132" y="794" width="3" height="1" fill="#c0c0c0"/>
<rect x="138" y="794" width="3" height="1" fill="#c0c0c0"/>
<rect x="144" y="794" width="3" height="1" fill="#c0c0c0"/>
<rect x="150" y="794" width="3" height="1" fill="#c0c0c0"/>
<rect x="156" y="794" width="3" height="1" fill="#c0c0c0"/>
<rect x="162" y="794" width="3" height="1" fill="#c0c0c0"/>
<rect x="168" y="794" width="3" height="1" fill="#c0c0c0"/>
<rect x="174" y="794" width="3" height="1" fill="#c0c0c0"/>
<rect x="180" y="794" width="3" height="1" fill="#c0c0c0"/>
<rect x="186" y="794" width="3" height="1" fill="#c0c0c0"/>
<rect x="192" y="794" width="3" height="1" fill="#c0c0c0"/>
<rect x="198" y="794" width="3" height="1" fill="#c0c0c0"/>
<rect x="204" y="794" width="3" height="1" fill="#c0c0c0"/>
<rect x="210" y="794" width="3" height="1" fill="#c0c0c0"/>
<rect x="216" y="794" width="3" height="1" fill="#c0c0c0"/>
<rect x="222" y="794" width="3" height="1" fill="#c0c0c0"/>
<rect x="228" y="794" width="3" height="1" fill="#c0c0c0"/>
<rect x="234" y="794" width="3" height="1" fill="#c0c0c0"/>
<rect x="240" y="794" width="3" height="1" fill="#c0c0c0"/>
<rect x="246" y="794" width="3" height="1" fill="#c0c0c0"/>
<rect x="252" y="794" width="3" height="1" fill="#c0c0c0"/>
<rect x="258" y="794" width="3" height="1" fill="#c0c0c0"/>
<rect x="264" y="794" width="3" height="1" fill="#c0c0c0"/>
<rect x="270" y="794" width="3" height="1" fill="#c0c0c0"/>
<rect x="276" y="794" width="3" height="1" fill="#c0c0c0"/>
<rect x="282" y="794" width="3" height="1" fill="#c0c0c0"/>
<rect x="288" y="794" width="3" height="1" fill="#c0c0c0"/>
<rect x="294" y="794" width="3" height="1" fill="#c0c0c0"/>
<rect x="300" y="794" width="3" height="1" fill="#c0c0c0"/>
<rect x="306" y="794" width="3" height="1" fill="#c0c0c0"/>
<rect x="312" y="794" width="3" height="1" fill="#c0c0c0"/>
<rect x="318" y="794" width="3" height="1" fill="#c0c0c0"/>
<rect x="324" y="794" width="3" height="1" fill="#c0c0c0"/>
<rect x="330" y="794" width="3" height="1" fill="#c0c0c0"/>
<rect x="336" y="794" width="3" height="1" fill="#c0c0c0"/>
<rect x="342" y="794" width="3" height="1" fill="#c0c0c0"/>
<rect x="348" y="794" width="3" height="1" fill="#c0c0c0"/>
<rect x="354" y="794" width="3" height="1" fill="#c0c0c0"/>
<rect x="360" y="794" width="3" height="1" fill="#c0c0c0"/>
<rect x="366" y="794" width="3" height="1" fill="#c0c0c0"/>
<rect x="372" y="794" width="3" height="1" fill="#c0c0c0"/>
<rect x="378" y="794" width="3" height="1" fill="#c0c0c0"/>
<rect x="384" y="794" width="3" height="1" fill="#c0c0c0"/>
<rect x="390" y="794" width="3" height="1" fill="#c0c0c0"/>
<rect x="396" y="794" width="3" height="1" fill="#c0c0c0"/>
<rect x="402" y="794" width="3" height="1" fill="#c0c0c0"/>
<rect x="408" y="794" width="3" height="1" fill="#c0c0c0"/>
<rect x="414" y="794" width="3" height="1" fill="#c0c0c0"/>
<rect x="420" y="794" width="3" height="1" fill="#c0c0c0"/>
<rect x="426" y="794" width="3" height="1" fill="#c0c0c0"/>
<rect x="432" y="794" width="3" height="1" fill="#c0c0c0"/>
<rect x="438" y="794" width="3" height="1" fill="#c0c0c0"/>
<rect x="444" y="794" width="3" height="1" fill="#c0c0c0"/>
<rect x="450" y="794" width="3" height="1" fill="#c0c0c0"/>
<rect x="456" y="794" width="3" height="1" fill="#c0c0c0"/>
<rect x="462" y="794" width="3" height="1" fill="#c0c0c0"/>
<rect x="468" y="794" width="3" height="1" fill="#c0c0c0"/>
<rect x="474" y="794" width="3" height="1" fill="#c0c0c0"/>
<rect x="480" y="794" width="3" height="1" fill="#c0c0c0"/>
<rect x="486" y="794" width="3" height="1" fill="#c0c0c0"/>
<rect x="492" y="794" width="3" height="1" fill="#c0c0c0"/>
<rect x="498" y="794" width="3" height="1" fill="#c0c0c0"/>
<rect x="504" y="794" width="3" height="1" fill="#c0c0c0"/>
<rect x="510" y="794" width="3" height="1" fill="#c0c0c0"/>
<rect x="516" y="794" width="3" height="1" fill="#c0c0c0"/>
<rect x="522" y="794" width="3" height="1" fill="#c0c0c0"/>
<rect x="528" y="794" width="3" height="1" fill="#c0c0c0"/>
<rect x="534" y="794" width="3" height="1" fill="#c0c0c0"/>
<rect x="540" y="794" width="3" height="1" fill="#c0c0c0"/>
<rect x="546" y="794" width="3" height="1" fill="#c0c0c0"/>
<rect x="552" y="794" width="3" height="1" fill="#c0c0c0"/>
<rect x="558" y="794" width="3" height="1" fill="#c0c0c0"/>
<rect x="564" y="794" width="3" height="1" fill="#c0c0c0"/>
<rect x="570" y="794" width="3" height="1" fill="#c0c0c0"/>
<rect x="576" y="794" width="3" height="1" fill="#c0c0c0"/>
<rect x="582" y="794" width="3" height="1" fill="#c0c0c0"/>
<rect x="588" y="794" width="3" height="1" fill="#c0c0c0"/>
<rect x="594" y="794" width="3" height="1" fill="#c0c0c0"/>
<rect x="600" y="794" width="3" height="1" fill="#c0c0c0"/>
<rect x="606" y="794" width="3" height="1" fill="#c0c0c0"/>
<rect x="612" y="794" width="3" height="1" fill="#c0c0c0"/>
<rect x="618" y="794" width="3" height="1" fill="#c0c0c0"/>
<rect x="624" y="794" width="3" height="1" fill="#c0c0c0"/>
<rect x="630" y="794" width="3" height="1" fill="#c0c0c0"/>
<rect x="636" y="794" width="3" height="1" fill="#c0c0c0"/>
<rect x="642" y="794" width="3" height="1" fill="#c0c0c0"/>
<rect x="648" y="794" width="3" height="1" fill="#c0c0c0"/>
<rect x="654" y="794" width="3" height="1" fill="#c0c0c0"/>
<rect x="660" y="794" width="3" height="1" fill="#c0c0c0"/>
<rect x="666" y="794" width="3" height="1" fill="#c0c0c0"/>
<rect x="672" y="794" width="3" height="1" fill="#c0c0c0"/>
<rect x="678" y="794" width="3" height="1" fill="#c0c0c0"/>
<rect x="684" y="794" width="3" height="1" fill="#c0c0c0"/>
<rect x="690" y="794" width="3" height="1" fill="#c0c0c0"/>
<rect x="696" y="794" width="3" height="1" fill="#c0c0c0"/>
<rect x="702" y="794" width="3" height="1" fill="#c0c0c0"/>
<rect x="708" y="794" width="3" height="1" fill="#c0c0c0"/>
<rect x="714" y="794" width="3" height="1" fill="#c0c0c0"/>
<rect x="720" y="794" width="3" height="1" fill="#c0c0c0"/>
<rect x="726" y="794" width="3" height="1" fill="#c0c0c0"/>
<rect x="732" y="794" width="3" height="1" fill="#c0c0c0"/>
<rect x="738" y="794" width="3" height="1" fill="#c0c0c0"/>
<rect x="744" y="794" width="3" height="1" fill="#c0c0c0"/>
<rect x="750" y="794" width="3" height="1" fill="#c0c0c0"/>
<rect x="756" y="794" width="3" height="1" fill="#c0c0c0"/>
<rect x="762" y="794" width="3" height="1" fill="#c0c0c0"/>
<rect x="768" y="794" width="3" height="1" fill="#c0c0c0"/>
<rect x="774" y="794" width="3" height="1" fill="#c0c0c0"/>
<rect x="780" y="794" width="3" height="1" fill="#c0c0c0"/>
<rect x="786" y="794" width="3" height="1" fill="#c0c0c0"/>
<rect x="792" y="794" width="3" height="1" fill="#c0c0c0"/>
<rect x="798" y="794" width="3" height="1" fill="#c0c0c0"/>
<rect x="804" y="794" width="3" height="1" fill="#c0c0c0"/>
<rect x="810" y="794" width="3" height="1" fill="#c0c0c0"/>
<rect x="816" y="794" width="3" height="1" fill="#c0c0c0"/>
<rect x="822" y="794" width="3" height="1" fill="#c0c0c0"/>
<rect x="828" y="794" width="3" height="1" fill="#c0c0c0"/>
<rect x="834" y="794" width="3" height="1" fill="#c0c0c0"/>
<rect x="840" y="794" width="3" height="1" fill="#c0c0c0"/>
<rect x="846" y="794" width="3" height="1" fill="#c0c0c0"/>
<rect x="852" y="794" width="3" height="1" fill="#c0c0c0"/>
<rect x="858" y="794" width="3" height="1" fill="#c0c0c0"/>
<rect x="864" y="794" width="3" height="1" fill="#c0c0c0"/>
<rect x="870" y="794" width="3" height="1" fill="#c0c0c0"/>
<rect x="876" y="794" width="3" height="1" fill="#c0c0c0"/>
<rect x="882" y="794" width="3" height="1" fill="#c0c0c0"/>
<rect x="888" y="794" width="3" height="1" fill="#c0c0c0"/>
<rect x="894" y="794" width="3" height="1" fill="#c0c0c0"/>
<rect x="900" y="794" width="3" height="1" fill="#c0c0c0"/>
<rect x="906" y="794" width="3" height="1" fill="#c0c0c0"/>
<rect x="912" y="794" width="3" height="1" fill="#c0c0c0"/>
<rect x="918" y="794" width="3" height="1" fill="#c0c0c0"/>
<rect x="924" y="794" width="3" height="1" fill="#c0c0c0"/>
<rect x="930" y="794" width="3" height="1" fill="#c0c0c0"/>
<rect x="936" y="794" width="3" height="1" fill="#c0c0c0"/>
<rect x="942" y="794" width="3" height="1" fill="#c0c0c0"/>
<rect x="948" y="794" width="3" height="1" fill="#c0c0c0"/>
<rect x="954" y="794" width="3" height="1" fill="#c0c0c0"/>
<rect x="960" y="794" width="3" height="1" fill="#c0c0c0"/>
<rect x="966" y="794" width="3" height="1" fill="#c0c0c0"/>
<rect x="972" y="794" width="3" height="1" fill="#c0c0c0"/>
<rect x="978" y="794" width="3" height="1" fill="#c0c0c0"/>
<rect x="984" y="794" width="3" height="1" fill="#c0c0c0"/>
<rect x="990" y="794" width="3" height="1" fill="#c0c0c0"/>
<rect x="996" y="794" width="3" height="1" fill="#c0c0c0"/>
<rect x="1002" y="794" width="3" height="1" fill="#c0c0c0"/>
<rect x="1008" y="794" width="3" height="1" fill="#c0c0c0"/>
<rect x="1014" y="794" width="3" height="1" fill="#c0c0c0"/>
<rect x="1020" y="794" width="3" height="1" fill="#c0c0c0"/>
<rect x="1026" y="794" width="3" height="1" fill="#c0c0c0"/>
<rect x="1032" y="794" width="3" height="1" fill="#c0c0c0"/>
<rect x="1038" y="794" width="3" height="1" fill="#c0c0c0"/>
<rect x="1044" y="794" width="3" height="1" fill="#c0c0c0"/>
<rect x="1050" y="794" width="3" height="1" fill="#c0c0c0"/>
<rect x="1056" y="794" width="3" height="1" fill="#c0c0c0"/>
<rect x="1062" y="794" width="3" height="1" fill="#c0c0c0"/>
<rect x="1068" y="794" width="3" height="1" fill="#c0c0c0"/>
<rect x="1074" y="794" width="3" height="1" fill="#c0c0c0"/>
<rect x="1080" y="794" width="3" height="1" fill="#c0c0c0"/>
<rect x="1086" y="794" width="3" height="1" fill="#c0c0c0"/>
<rect x="1092" y="794" width="3" height="1" fill="#c0c0c0"/>
<rect x="1098" y="794" width="3" height="1" fill="#c0c0c0"/>
<rect x="1104" y="794" width="3" height="1" fill="#c0c0c0"/>
<rect x="1110" y="794" width="3" height="1" fill="#c0c0c0"/>
<rect x="1116" y="794" width="3" height="1" fill="#c0c0c0"/>
<rect x="1122" y="794" width="3" height="1" fill="#c0c0c0"/>
<rect x="1128" y="794" width="3" height="1" fill="#c0c0c0"/>
<rect x="1134" y="794" width="3" height="1" fill="#c0c0c0"/>
<rect x="1140" y="794" width="3" height="1" fill="#c0c0c0"/>
<rect x="1146" y="794" width="3" height="1" fill="#c0c0c0"/>
<rect x="1152" y="794" width="3" height="1" fill="#c0c0c0"/>
<rect x="1158" y="794" width="3" height="1" fill="#c0c0c0"/>
<rect x="1164" y="794" width="3" height="1" fill="#c0c0c0"/>
<rect x="1170" y="794" width="3" height="1" fill="#c0c0c0"/>
<rect x="1176" y="794" width="3" height="1" fill="#c0c0c0"/>
<rect x="1182" y="794" width="3" height="1" fill="#c0c0c0"/>
<rect x="1188" y="794" width="3" height="1" fill="#c0c0c0"/>
<rect x="1194" y="794" width="3" height="1" fill="#c0c0c0"/>
<rect x="1200" y="794" width="3" height="1" fill="#c0c0c0"/>
<rect x="1206" y="794" width="3" height="1" fill="#c0c0c0"/>
<rect x="1212" y="794" width="3" height="1" fill="#c0c0c0"/>
<rect x="1218" y="794" width="3" height="1" fill="#c0c0c0"/>
<rect x="1224" y="794" width="3" height="1" fill="#c0c0c0"/>
<rect x="1230" y="794" width="3" height="1" fill="#c0c0c0"/>
<rect x="1236" y="794" width="3" height="1" fill="#c0c0c0"/>
<rect x="1242" y="794" width="3" height="1" fill="#c0c0c0"/>
<rect x="1248" y="794" width="3" height="1" fill="#c0c0c0"/>
<rect x="1254" y="794" width="3" height="1" fill="#c0c0c0"/>
<rect x="1260" y="794" width="3" height="1" fill="#c0c0c0"/>
<rect x="1266" y="794" width="3" height="1" fill="#c0c0c0"/>
<rect x="1272" y="794" width="3" height="1" fill="#c0c0c0"/>
<rect x="1278" y="794" width="3" height="1" fill="#c0c0c0"/>
<rect x="1284" y="794" width="3" height="1" fill="#c0c0c0"/>
<rect x="1290" y="794" width="3" height="1" fill="#c0c0c0"/>
<rect x="1296" y="794" width="3" height="1" fill="#c0c0c0"/>
<rect x="1302" y="794" width="3" height="1" fill="#c0c0c0"/>
<rect x="1308" y="794" width="3" height="1" fill="#c0c0c0"/>
<rect x="1314" y="794" width="3" height="1" fill="#c0c0c0"/>
<rect x="1320" y="794" width="3" height="1" fill="#c0c0c0"/>
<rect x="1326" y="794" width="3" height="1" fill="#c0c0c0"/>
<rect x="1332" y="794" width="3" height="1" fill="#c0c0c0"/>
<rect x="1338" y="794" width="3" height="1" fill="#c0c0c0"/>
<rect x="1344" y="794" width="3" height="1" fill="#c0c0c0"/>
<rect x="1350" y="794" width="3" height="1" fill="#c0c0c0"/>
<rect x="1356" y="794" width="3" height="1" fill="#c0c0c0"/>
<rect x="1362" y="794" width="3" height="1" fill="#c0c0c0"/>
<rect x="1368" y="794" width="3" height="1" fill="#c0c0c0"/>
<rect x="1374" y="794" width="3" height="1" fill="#c0c0c0"/>
<rect x="1380" y="794" width="3" height="1" fill="#c0c0c0"/>
<rect x="1386" y="794" width="3" height="1" fill="#c0c0c0"/>
<rect x="1392" y="794" width="3" height="1" fill="#c0c0c0"/>
<rect x="1398" y="794" width="3" height="1" fill="#c0c0c0"/>
<rect x="1404" y="794" width="3" height="1" fill="#c0c0c0"/>
<rect x="1410" y="794" width="3" height="1" fill="#c0c0c0"/>
<rect x="1416" y="794" width="3" height="1" fill="#c0c0c0"/>
<rect x="1422" y="794" width="3" height="1" fill="#c0c0c0"/>
<rect x="1428" y="794" width="3" height="1" fill="#c0c0c0"/>
<rect x="1434" y="794" width="3" height="1" fill="#c0c0c0"/>
<rect x="1440" y="794" width="3" height="1" fill="#c0c0c0"/>
<rect x="1446" y="794" width="3" height="1" fill="#c0c0c0"/>
<rect x="1452" y="794" width="3" height="1" fill="#c0c0c0"/>
<rect x="1458" y="794" width="3" height="1" fill="#c0c0c0"/>
<rect x="1464" y="794" width="3" height="1" fill="#c0c0c0"/>
<rect x="1470" y="794" width="3" height="1" fill="#c0c0c0"/>
<rect x="1476" y="794" width="3" height="1" fill="#c0c0c0"/>
<rect x="1482" y="794" width="3" height="1" fill="#c0c0c0"/>
<rect x="1488" y="794" width="3" height="1" fill="#c0c0c0"/>
<rect x="1494" y="794" width="3" height="1" fill="#c0c0c0"/>
<rect x="1500" y="794" width="3" height="1" fill="#c0c0c0"/>
<rect x="1506" y="794" width="3" height="1" fill="#c0c0c0"/>
<rect x="1512" y="794" width="3" height="1" fill="#c0c0c0"/>
<rect x="1518" y="794" width="3" height="1" fill="#c0c0c0"/>
<rect x="1524" y="794" width="3" height="1" fill="#c0c0c0"/>
<rect x="1530" y="794" width="3" height="1" fill="#c0c0c0"/>
<rect x="1536" y="794" width="3" height="1" fill="#c0c0c0"/>
<rect x="1542" y="794" width="3" height="1" fill="#c0c0c0"/>
<rect x="1548" y="794" width="3" height="1" fill="#c0c0c0"/>
<rect x="1554" y="794" width="3" height="1" fill="#c0c0c0"/>
<rect x="1560" y="794" width="3" height="1" fill="#c0c0c0"/>
<rect x="1566" y="794" width="3" height="1" fill="#c0c0c0"/>
<rect x="1572" y="794" width="3" height="1" fill="#c0c0c0"/>
<rect x="1578" y="794" width="3" height="1" fill="#c0c0c0"/>
<rect x="1584" y="794" width="3" height="1" fill="#c0c0c0"/>
<rect x="1590" y="794" width="3" height="1" fill="#c0c0c0"/>
<rect x="1596" y="794" width="3" height="1" fill="#c0c0c0"/>
<rect x="1602" y="794" width="3" height="1" fill="#c0c0c0"/>
<rect x="1608" y="794" width="3" height="1" fill="#c0c0c0"/>
<rect x="1614" y="794" width="3" height="1" fill="#c0c0c0"/>
<rect x="1620" y="794" width="3" height="1" fill="#c0c0c0"/>
<rect x="1626" y="794" width="3" height="1" fill="#c0c0c0"/>
<rect x="1632" y="794" width="3" height="1" fill="#c0c0c0"/>
<rect x="1638" y="794" width="3" height="1" fill="#c0c0c0"/>
<rect x="1644" y="794" width="3" height="1" fill="#c0c0c0"/>
<rect x="1650" y="794" width="3" height="1" fill="#c0c0c0"/>
<rect x="1656" y="794" width="3" height="1" fill="#c0c0c0"/>
<rect x="1662" y="794" width="3" height="1" fill="#c0c0c0"/>
<rect x="1668" y="794" width="3" height="1" fill="#c0c0c0"/>
<rect x="1674" y="794" width="3" height="1" fill="#c0c0c0"/>
<rect x="1680" y="794" width="3" height="1" fill="#c0c0c0"/>
<rect x="6" y="839" width="3" height="1" fill="#c0c0c0"/>
<rect x="12" y="839" width="3" height="1" fill="#c0c0c0"/>
<rect x="18" y="839" width="3" height="1" fill="#c0c0c0"/>
<rect x="24" y="839" width="3" height="1" fill="#c0c0c0"/>
<rect x="30" y="839" width="3" height="1" fill="#c0c0c0"/>
<rect x="36" y="839" width="3" height="1" fill="#c0c0c0"/>
<rect x="42" y="839" width="3" height="1" fill="#c0c0c0"/>
<rect x="48" y="839" width="3" height="1" fill="#c0c0c0"/>
<rect x="54" y="839" width="3" height="1" fill="#c0c0c0"/>
<rect x="60" y="839" width="3" height="1" fill="#c0c0c0"/>
<rect x="66" y="839" width="3" height="1" fill="#c0c0c0"/>
<rect x="72" y="839" width="3" height="1" fill="#c0c0c0"/>
<rect x="78" y="839" width="3" height="1" fill="#c0c0c0"/>
<rect x="84" y="839" width="3" height="1" fill="#c0c0c0"/>
<rect x="90" y="839" width="3" height="1" fill="#c0c0c0"/>
<rect x="96" y="839" width="3" height="1" fill="#c0c0c0"/>
<rect x="102" y="839" width="3" height="1" fill="#c0c0c0"/>
<rect x="108" y="839" width="3" height="1" fill="#c0c0c0"/>
<rect x="114" y="839" width="3" height="1" fill="#c0c0c0"/>
<rect x="120" y="839" width="3" height="1" fill="#c0c0c0"/>
<rect x="126" y="839" width="3" height="1" fill="#c0c0c0"/>
<rect x="132" y="839" width="3" height="1" fill="#c0c0c0"/>
<rect x="138" y="839" width="3" height="1" fill="#c0c0c0"/>
<rect x="144" y="839" width="3" height="1" fill="#c0c0c0"/>
<rect x="150" y="839" width="3" height="1" fill="#c0c0c0"/>
<rect x="156" y="839" width="3" height="1" fill="#c0c0c0"/>
<rect x="162" y="839" width="3" height="1" fill="#c0c0c0"/>
<rect x="168" y="839" width="3" height="1" fill="#c0c0c0"/>
<rect x="174" y="839" width="3" height="1" fill="#c0c0c0"/>
<rect x="180" y="839" width="3" height="1" fill="#c0c0c0"/>
<rect x="186" y="839" width="3" height="1" fill="#c0c0c0"/>
<rect x="192" y="839" width="3" height="1" fill="#c0c0c0"/>
<rect x="198" y="839" width="3" height="1" fill="#c0c0c0"/>
<rect x="204" y="839" width="3" height="1" fill="#c0c0c0"/>
<rect x="210" y="839" width="3" height="1" fill="#c0c0c0"/>
<rect x="216" y="839" width="3" height="1" fill="#c0c0c0"/>
<rect x="222" y="839" width="3" height="1" fill="#c0c0c0"/>
<rect x="228" y="839" width="3" height="1" fill="#c0c0c0"/>
<rect x="234" y="839" width="3" height="1" fill="#c0c0c0"/>
<rect x="240" y="839" width="3" height="1" fill="#c0c0c0"/>
<rect x="246" y="839" width="3" height="1" fill="#c0c0c0"/>
<rect x="252" y="839" width="3" height="1" fill="#c0c0c0"/>
<rect x="258" y="839" width="3" height="1" fill="#c0c0c0"/>
<rect x="264" y="839" width="3" height="1" fill="#c0c0c0"/>
<rect x="270" y="839" width="3" height="1" fill="#c0c0c0"/>
<rect x="276" y="839" width="3" height="1" fill="#c0c0c0"/>
<rect x="282" y="839" width="3" height="1" fill="#c0c0c0"/>
<rect x="288" y="839" width="3" height="1" fill="#c0c0c0"/>
<rect x="294" y="839" width="3" height="1" fill="#c0c0c0"/>
<rect x="300" y="839" width="3" height="1" fill="#c0c0c0"/>
<rect x="306" y="839" width="3" height="1" fill="#c0c0c0"/>
<rect x="312" y="839" width="3" height="1" fill="#c0c0c0"/>
<rect x="318" y="839" width="3" height="1" fill="#c0c0c0"/>
<rect x="324" y="839" width="3" height="1" fill="#c0c0c0"/>
<rect x="330" y="839" width="3" height="1" fill="#c0c0c0"/>
<rect x="336" y="839" width="3" height="1" fill="#c0c0c0"/>
<rect x="342" y="839" width="3" height="1" fill="#c0c0c0"/>
<rect x="348" y="839" width="3" height="1" fill="#c0c0c0"/>
<rect x="354" y="839" width="3" height="1" fill="#c0c0c0"/>
<rect x="360" y="839" width="3" height="1" fill="#c0c0c0"/>
<rect x="366" y="839" width="3" height="1" fill="#c0c0c0"/>
<rect x="372" y="839" width="3" height="1" fill="#c0c0c0"/>
<rect x="378" y="839" width="3" height="1" fill="#c0c0c0"/>
<rect x="384" y="839" width="3" height="1" fill="#c0c0c0"/>
<rect x="390" y="839" width="3" height="1" fill="#c0c0c0"/>
<rect x="396" y="839" width="3" height="1" fill="#c0c0c0"/>
<rect x="402" y="839" width="3" height="1" fill="#c0c0c0"/>
<rect x="408" y="839" width="3" height="1" fill="#c0c0c0"/>
<rect x="414" y="839" width="3" height="1" fill="#c0c0c0"/>
<rect x="420" y="839" width="3" height="1" fill="#c0c0c0"/>
<rect x="426" y="839" width="3" height="1" fill="#c0c0c0"/>
<rect x="432" y="839" width="3" height="1" fill="#c0c0c0"/>
<rect x="438" y="839" width="3" height="1" fill="#c0c0c0"/>
<rect x="444" y="839" width="3" height="1" fill="#c0c0c0"/>
<rect x="450" y="839" width="3" height="1" fill="#c0c0c0"/>
<rect x="456" y="839" width="3" height="1" fill="#c0c0c0"/>
<rect x="462" y="839" width="3" height="1" fill="#c0c0c0"/>
<rect x="468" y="839" width="3" height="1" fill="#c0c0c0"/>
<rect x="474" y="839" width="3" height="1" fill="#c0c0c0"/>
<rect x="480" y="839" width="3" height="1" fill="#c0c0c0"/>
<rect x="486" y="839" width="3" height="1" fill="#c0c0c0"/>
<rect x="492" y="839" width="3" height="1" fill="#c0c0c0"/>
<rect x="498" y="839" width="3" height="1" fill="#c0c0c0"/>
<rect x="504" y="839" width="3" height="1" fill="#c0c0c0"/>
<rect x="510" y="839" width="3" height="1" fill="#c0c0c0"/>
<rect x="516" y="839" width="3" height="1" fill="#c0c0c0"/>
<rect x="522" y="839" width="3" height="1" fill="#c0c0c0"/>
<rect x="528" y="839" width="3" height="1" fill="#c0c0c0"/>
<rect x="534" y="839" width="3" height="1" fill="#c0c0c0"/>
<rect x="540" y="839" width="3" height="1" fill="#c0c0c0"/>
<rect x="546" y="839" width="3" height="1" fill="#c0c0c0"/>
<rect x="552" y="839" width="3" height="1" fill="#c0c0c0"/>
<rect x="558" y="839" width="3" height="1" fill="#c0c0c0"/>
<rect x="564" y="839" width="3" height="1" fill="#c0c0c0"/>
<rect x="570" y="839" width="3" height="1" fill="#c0c0c0"/>
<rect x="576" y="839" width="3" height="1" fill="#c0c0c0"/>
<rect x="582" y="839" width="3" height="1" fill="#c0c0c0"/>
<rect x="588" y="839" width="3" height="1" fill="#c0c0c0"/>
<rect x="594" y="839" width="3" height="1" fill="#c0c0c0"/>
<rect x="600" y="839" width="3" height="1" fill="#c0c0c0"/>
<rect x="606" y="839" width="3" height="1" fill="#c0c0c0"/>
<rect x="612" y="839" width="3" height="1" fill="#c0c0c0"/>
<rect x="618" y="839" width="3" height="1" fill="#c0c0c0"/>
<rect x="624" y="839" width="3" height="1" fill="#c0c0c0"/>
<rect x="630" y="839" width="3" height="1" fill="#c0c0c0"/>
<rect x="636" y="839" width="3" height="1" fill="#c0c0c0"/>
<rect x="642" y="839" width="3" height="1" fill="#c0c0c0"/>
<rect x="648" y="839" width="3" height="1" fill="#c0c0c0"/>
<rect x="654" y="839" width="3" height="1" fill="#c0c0c0"/>
<rect x="660" y="839" width="3" height="1" fill="#c0c0c0"/>
<rect x="666" y="839" width="3" height="1" fill="#c0c0c0"/>
<rect x="672" y="839" width="3" height="1" fill="#c0c0c0"/>
<rect x="678" y="839" width="3" height="1" fill="#c0c0c0"/>
<rect x="684" y="839" width="3" height="1" fill="#c0c0c0"/>
<rect x="690" y="839" width="3" height="1" fill="#c0c0c0"/>
<rect x="696" y="839" width="3" height="1" fill="#c0c0c0"/>
<rect x="702" y="839" width="3" height="1" fill="#c0c0c0"/>
<rect x="708" y="839" width="3" height="1" fill="#c0c0c0"/>
<rect x="714" y="839" width="3" height="1" fill="#c0c0c0"/>
<rect x="720" y="839" width="3" height="1" fill="#c0c0c0"/>
<rect x="726" y="839" width="3" height="1" fill="#c0c0c0"/>
<rect x="732" y="839" width="3" height="1" fill="#c0c0c0"/>
<rect x="738" y="839" width="3" height="1" fill="#c0c0c0"/>
<rect x="744" y="839" width="3" height="1" fill="#c0c0c0"/>
<rect x="750" y="839" width="3" height="1" fill="#c0c0c0"/>
<rect x="756" y="839" width="3" height="1" fill="#c0c0c0"/>
<rect x="762" y="839" width="3" height="1" fill="#c0c0c0"/>
<rect x="768" y="839" width="3" height="1" fill="#c0c0c0"/>
<rect x="774" y="839" width="3" height="1" fill="#c0c0c0"/>
<rect x="780" y="839" width="3" height="1" fill="#c0c0c0"/>
<rect x="786" y="839" width="3" height="1" fill="#c0c0c0"/>
<rect x="792" y="839" width="3" height="1" fill="#c0c0c0"/>
<rect x="798" y="839" width="3" height="1" fill="#c0c0c0"/>
<rect x="804" y="839" width="3" height="1" fill="#c0c0c0"/>
<rect x="810" y="839" width="3" height="1" fill="#c0c0c0"/>
<rect x="816" y="839" width="3" height="1" fill="#c0c0c0"/>
<rect x="822" y="839" width="3" height="1" fill="#c0c0c0"/>
<rect x="828" y="839" width="3" height="1" fill="#c0c0c0"/>
<rect x="834" y="839" width="3" height="1" fill="#c0c0c0"/>
<rect x="840" y="839" width="3" height="1" fill="#c0c0c0"/>
<rect x="846" y="839" width="3" height="1" fill="#c0c0c0"/>
<rect x="852" y="839" width="3" height="1" fill="#c0c0c0"/>
<rect x="858" y="839" width="3" height="1" fill="#c0c0c0"/>
<rect x="864" y="839" width="3" height="1" fill="#c0c0c0"/>
<rect x="870" y="839" width="3" height="1" fill="#c0c0c0"/>
<rect x="876" y="839" width="3" height="1" fill="#c0c0c0"/>
<rect x="882" y="839" width="3" height="1" fill="#c0c0c0"/>
<rect x="888" y="839" width="3" height="1" fill="#c0c0c0"/>
<rect x="894" y="839" width="3" height="1" fill="#c0c0c0"/>
<rect x="900" y="839" width="3" height="1" fill="#c0c0c0"/>
<rect x="906" y="839" width="3" height="1" fill="#c0c0c0"/>
<rect x="912" y="839" width="3" height="1" fill="#c0c0c0"/>
<rect x="918" y="839" width="3" height="1" fill="#c0c0c0"/>
<rect x="924" y="839" width="3" height="1" fill="#c0c0c0"/>
<rect x="930" y="839" width="3" height="1" fill="#c0c0c0"/>
<rect x="936" y="839" width="3" height="1" fill="#c0c0c0"/>
<rect x="942" y="839" width="3" height="1" fill="#c0c0c0"/>
<rect x="948" y="839" width="3" height="1" fill="#c0c0c0"/>
<rect x="954" y="839" width="3" height="1" fill="#c0c0c0"/>
<rect x="960" y="839" width="3" height="1" fill="#c0c0c0"/>
<rect x="966" y="839" width="3" height="1" fill="#c0c0c0"/>
<rect x="972" y="839" width="3" height="1" fill="#c0c0c0"/>
<rect x="978" y="839" width="3" height="1" fill="#c0c0c0"/>
<rect x="984" y="839" width="3" height="1" fill="#c0c0c0"/>
<rect x="990" y="839" width="3" height="1" fill="#c0c0c0"/>
<rect x="996" y="839" width="3" height="1" fill="#c0c0c0"/>
<rect x="1002" y="839" width="3" height="1" fill="#c0c0c0"/>
<rect x="1008" y="839" width="3" height="1" fill="#c0c0c0"/>
<rect x="1014" y="839" width="3" height="1" fill="#c0c0c0"/>
<rect x="1020" y="839" width="3" height="1" fill="#c0c0c0"/>
<rect x="1026" y="839" width="3" height="1" fill="#c0c0c0"/>
<rect x="1032" y="839" width="3" height="1" fill="#c0c0c0"/>
<rect x="1038" y="839" width="3" height="1" fill="#c0c0c0"/>
<rect x="1044" y="839" width="3" height="1" fill="#c0c0c0"/>
<rect x="1050" y="839" width="3" height="1" fill="#c0c0c0"/>
<rect x="1056" y="839" width="3" height="1" fill="#c0c0c0"/>
<rect x="1062" y="839" width="3" height="1" fill="#c0c0c0"/>
<rect x="1068" y="839" width="3" height="1" fill="#c0c0c0"/>
<rect x="1074" y="839" width="3" height="1" fill="#c0c0c0"/>
<rect x="1080" y="839" width="3" height="1" fill="#c0c0c0"/>
<rect x="1086" y="839" width="3" height="1" fill="#c0c0c0"/>
<rect x="1092" y="839" width="3" height="1" fill="#c0c0c0"/>
<rect x="1098" y="839" width="3" height="1" fill="#c0c0c0"/>
<rect x="1104" y="839" width="3" height="1" fill="#c0c0c0"/>
<rect x="1110" y="839" width="3" height="1" fill="#c0c0c0"/>
<rect x="1116" y="839" width="3" height="1" fill="#c0c0c0"/>
<rect x="1122" y="839" width="3" height="1" fill="#c0c0c0"/>
<rect x="1128" y="839" width="3" height="1" fill="#c0c0c0"/>
<rect x="1134" y="839" width="3" height="1" fill="#c0c0c0"/>
<rect x="1140" y="839" width="3" height="1" fill="#c0c0c0"/>
<rect x="1146" y="839" width="3" height="1" fill="#c0c0c0"/>
<rect x="1152" y="839" width="3" height="1" fill="#c0c0c0"/>
<rect x="1158" y="839" width="3" height="1" fill="#c0c0c0"/>
<rect x="1164" y="839" width="3" height="1" fill="#c0c0c0"/>
<rect x="1170" y="839" width="3" height="1" fill="#c0c0c0"/>
<rect x="1176" y="839" width="3" height="1" fill="#c0c0c0"/>
<rect x="1182" y="839" width="3" height="1" fill="#c0c0c0"/>
<rect x="1188" y="839" width="3" height="1" fill="#c0c0c0"/>
<rect x="1194" y="839" width="3" height="1" fill="#c0c0c0"/>
<rect x="1200" y="839" width="3" height="1" fill="#c0c0c0"/>
<rect x="1206" y="839" width="3" height="1" fill="#c0c0c0"/>
<rect x="1212" y="839" width="3" height="1" fill="#c0c0c0"/>
<rect x="1218" y="839" width="3" height="1" fill="#c0c0c0"/>
<rect x="1224" y="839" width="3" height="1" fill="#c0c0c0"/>
<rect x="1230" y="839" width="3" height="1" fill="#c0c0c0"/>
<rect x="1236" y="839" width="3" height="1" fill="#c0c0c0"/>
<rect x="1242" y="839" width="3" height="1" fill="#c0c0c0"/>
<rect x="1248" y="839" width="3" height="1" fill="#c0c0c0"/>
<rect x="1254" y="839" width="3" height="1" fill="#c0c0c0"/>
<rect x="1260" y="839" width="3" height="1" fill="#c0c0c0"/>
<rect x="1266" y="839" width="3" height="1" fill="#c0c0c0"/>
<rect x="1272" y="839" width="3" height="1" fill="#c0c0c0"/>
<rect x="1278" y="839" width="3" height="1" fill="#c0c0c0"/>
<rect x="1284" y="839" width="3" height="1" fill="#c0c0c0"/>
<rect x="1290" y="839" width="3" height="1" fill="#c0c0c0"/>
<rect x="1296" y="839" width="3" height="1" fill="#c0c0c0"/>
<rect x="1302" y="839" width="3" height="1" fill="#c0c0c0"/>
<rect x="1308" y="839" width="3" height="1" fill="#c0c0c0"/>
<rect x="1314" y="839" width="3" height="1" fill="#c0c0c0"/>
<rect x="1320" y="839" width="3" height="1" fill="#c0c0c0"/>
<rect x="1326" y="839" width="3" height="1" fill="#c0c0c0"/>
<rect x="1332" y="839" width="3" height="1" fill="#c0c0c0"/>
<rect x="1338" y="839" width="3" height="1" fill="#c0c0c0"/>
<rect x="1344" y="839" width="3" height="1" fill="#c0c0c0"/>
<rect x="1350" y="839" width="3" height="1" fill="#c0c0c0"/>
<rect x="1356" y="839" width="3" height="1" fill="#c0c0c0"/>
<rect x="1362" y="839" width="3" height="1" fill="#c0c0c0"/>
<rect x="1368" y="839" width="3" height="1" fill="#c0c0c0"/>
<rect x="1374" y="839" width="3" height="1" fill="#c0c0c0"/>
<rect x="1380" y="839" width="3" height="1" fill="#c0c0c0"/>
<rect x="1386" y="839" width="3" height="1" fill="#c0c0c0"/>
<rect x="1392" y="839" width="3" height="1" fill="#c0c0c0"/>
<rect x="1398" y="839" width="3" height="1" fill="#c0c0c0"/>
<rect x="1404" y="839" width="3" height="1" fill="#c0c0c0"/>
<rect x="1410" y="839" width="3" height="1" fill="#c0c0c0"/>
<rect x="1416" y="839" width="3" height="1" fill="#c0c0c0"/>
<rect x="1422" y="839" width="3" height="1" fill="#c0c0c0"/>
<rect x="1428" y="839" width="3" height="1" fill="#c0c0c0"/>
<rect x="1434" y="839" width="3" height="1" fill="#c0c0c0"/>
<rect x="1440" y="839" width="3" height="1" fill="#c0c0c0"/>
<rect x="1446" y="839" width="3" height="1" fill="#c0c0c0"/>
<rect x="1452" y="839" width="3" height="1" fill="#c0c0c0"/>
<rect x="1458" y="839" width="3" height="1" fill="#c0c0c0"/>
<rect x="1464" y="839" width="3" height="1" fill="#c0c0c0"/>
<rect x="1470" y="839" width="3" height="1" fill="#c0c0c0"/>
<rect x="1476" y="839" width="3" height="1" fill="#c0c0c0"/>
<rect x="1482" y="839" width="3" height="1" fill="#c0c0c0"/>
<rect x="1488" y="839" width="3" height="1" fill="#c0c0c0"/>
<rect x="1494" y="839" width="3" height="1" fill="#c0c0c0"/>
<rect x="1500" y="839" width="3" height="1" fill="#c0c0c0"/>
<rect x="1506" y="839" width="3" height="1" fill="#c0c0c0"/>
<rect x="1512" y="839" width="3" height="1" fill="#c0c0c0"/>
<rect x="1518" y="839" width="3" height="1" fill="#c0c0c0"/>
<rect x="1524" y="839" width="3" height="1" fill="#c0c0c0"/>
<rect x="1530" y="839" width="3" height="1" fill="#c0c0c0"/>
<rect x="1536" y="839" width="3" height="1" fill="#c0c0c0"/>
<rect x="1542" y="839" width="3" height="1" fill="#c0c0c0"/>
<rect x="1548" y="839" width="3" height="1" fill="#c0c0c0"/>
<rect x="1554" y="839" width="3" height="1" fill="#c0c0c0"/>
<rect x="1560" y="839" width="3" height="1" fill="#c0c0c0"/>
<rect x="1566" y="839" width="3" height="1" fill="#c0c0c0"/>
<rect x="1572" y="839" width="3" height="1" fill="#c0c0c0"/>
<rect x="1578" y="839" width="3" height="1" fill="#c0c0c0"/>
<rect x="1584" y="839" width="3" height="1" fill="#c0c0c0"/>
<rect x="1590" y="839" width="3" height="1" fill="#c0c0c0"/>
<rect x="1596" y="839" width="3" height="1" fill="#c0c0c0"/>
<rect x="1602" y="839" width="3" height="1" fill="#c0c0c0"/>
<rect x="1608" y="839" width="3" height="1" fill="#c0c0c0"/>
<rect x="1614" y="839" width="3" height="1" fill="#c0c0c0"/>
<rect x="1620" y="839" width="3" height="1" fill="#c0c0c0"/>
<rect x="1626" y="839" width="3" height="1" fill="#c0c0c0"/>
<rect x="1632" y="839" width="3" height="1" fill="#c0c0c0"/>
<rect x="1638" y="839" width="3" height="1" fill="#c0c0c0"/>
<rect x="1644" y="839" width="3" height="1" fill="#c0c0c0"/>
<rect x="1650" y="839" width="3" height="1" fill="#c0c0c0"/>
<rect x="1656" y="839" width="3" height="1" fill="#c0c0c0"/>
<rect x="1662" y="839" width="3" height="1" fill="#c0c0c0"/>
<rect x="1668" y="839" width="3" height="1" fill="#c0c0c0"/>
<rect x="1674" y="839" width="3" height="1" fill="#c0c0c0"/>
<rect x="1680" y="839" width="3" height="1" fill="#c0c0c0"/>
</g>
<path d="M1005 771h1v1h-1zM1117 771h1v1h-1zM1003 772h2v1h-2zM1006 772h1v1h-1zM1115 772h3v1h-3zM1001 773h2v1h-2zM1006 773h1v1h-1zM1090 773h6v1h-6zM1113 773h2v1h-2zM1118 773h1v1h-1zM999 774h2v1h-2zM1007 774h1v1h-1zM1077 774h13v1h-13zM1096 774h4v1h-4zM1111 774h2v1h-2zM1118 774h1v1h-1zM994 775h5v1h-5zM1007 775h1v1h-1zM1075 775h2v1h-2zM1100 775h11v1h-11zM1119 775h1v1h-1zM933 776h1v1h-1zM962 776h14v1h-14zM988 776h6v1h-6zM1008 776h1v1h-1zM1073 776h2v1h-2zM1119 776h1v1h-1zM931 777h2v1h-2zM934 777h2v1h-2zM956 777h6v1h-6zM976 777h4v1h-4zM984 777h4v1h-4zM1008 777h1v1h-1zM1071 777h2v1h-2zM1119 777h1v1h-1zM930 778h1v1h-1zM936 778h2v1h-2zM952 778h4v1h-4zM980 778h4v1h-4zM1009 778h1v1h-1zM1069 778h2v1h-2zM1120 778h1v1h-1zM928 779h2v1h-2zM938 779h1v1h-1zM948 779h4v1h-4zM1009 779h1v1h-1zM1067 779h2v1h-2zM1120 779h1v1h-1zM926 780h2v1h-2zM939 780h2v1h-2zM944 780h4v1h-4zM1010 780h1v1h-1zM1065 780h2v1h-2zM1120 780h1v1h-1zM922 781h4v1h-4zM941 781h3v1h-3zM1010 781h1v1h-1zM1063 781h2v1h-2zM1121 781h1v1h-1zM914 782h8v1h-8zM1011 782h1v1h-1zM1036 782h3v1h-3zM1058 782h5v1h-5zM1121 782h1v1h-1zM909 783h5v1h-5zM1011 783h1v1h-1zM1032 783h4v1h-4zM1039 783h3v1h-3zM1052 783h6v1h-6zM1122 783h1v1h-1zM908 784h1v1h-1zM1012 784h1v1h-1zM1028 784h4v1h-4zM1042 784h2v1h-2zM1048 784h4v1h-4zM1122 784h1v1h-1zM1405 784h1v1h-1zM907 785h1v1h-1zM1012 785h1v1h-1zM1024 785h4v1h-4zM1044 785h4v1h-4zM1122 785h1v1h-1zM1403 785h2v1h-2zM1406 785h1v1h-1zM1500 785h2v1h-2zM906 786h1v1h-1zM1013 786h11v1h-11zM1123 786h1v1h-1zM1401 786h2v1h-2zM1406 786h1v1h-1zM1496 786h4v1h-4zM1502 786h1v1h-1zM477 787h2v1h-2zM905 787h1v1h-1zM1123 787h1v1h-1zM1399 787h2v1h-2zM1407 787h1v1h-1zM1477 787h5v1h-5zM1490 787h6v1h-6zM1502 787h1v1h-1zM475 788h2v1h-2zM479 788h2v1h-2zM905 788h1v1h-1zM1123 788h1v1h-1zM1397 788h2v1h-2zM1407 788h1v1h-1zM1475 788h2v1h-2zM1482 788h8v1h-8zM1503 788h1v1h-1zM474 789h1v1h-1zM481 789h2v1h-2zM508 789h2v1h-2zM904 789h1v1h-1zM1124 789h1v1h-1zM1396 789h1v1h-1zM1408 789h1v1h-1zM1429 789h9v1h-9zM1474 789h1v1h-1zM1504 789h1v1h-1zM472 790h2v1h-2zM483 790h2v1h-2zM504 790h4v1h-4zM510 790h1v1h-1zM903 790h1v1h-1zM1124 790h1v1h-1zM1395 790h1v1h-1zM1409 790h1v1h-1zM1427 790h2v1h-2zM1438 790h2v1h-2zM1472 790h2v1h-2zM1505 790h1v1h-1zM470 791h2v1h-2zM485 791h19v1h-19zM511 791h1v1h-1zM902 791h1v1h-1zM1125 791h1v1h-1zM1394 791h1v1h-1zM1409 791h1v1h-1zM1425 791h2v1h-2zM1440 791h2v1h-2zM1470 791h2v1h-2zM1505 791h1v1h-1zM469 792h1v1h-1zM512 792h1v1h-1zM901 792h1v1h-1zM1125 792h1v1h-1zM1392 792h2v1h-2zM1410 792h1v1h-1zM1423 792h2v1h-2zM1442 792h1v1h-1zM1460 792h10v1h-10zM1506 792h1v1h-1zM468 793h1v1h-1zM513 793h1v1h-1zM899 793h2v1h-2zM1125 793h1v1h-1zM1205 793h3v1h-3zM1391 793h1v1h-1zM1411 793h1v1h-1zM1421 793h2v1h-2zM1443 793h2v1h-2zM1456 793h4v1h-4zM1507 793h1v1h-1zM1516 793h2v1h-2zM466 794h2v1h-2zM514 794h1v1h-1zM897 794h2v1h-2zM1126 794h1v1h-1zM1203 794h2v1h-2zM1208 794h4v1h-4zM1390 794h1v1h-1zM1411 794h1v1h-1zM1419 794h2v1h-2zM1445 794h11v1h-11zM1508 794h1v1h-1zM1514 794h2v1h-2zM1518 794h1v1h-1zM436 795h2v1h-2zM465 795h1v1h-1zM515 795h1v1h-1zM895 795h2v1h-2zM1126 795h1v1h-1zM1201 795h2v1h-2zM1212 795h4v1h-4zM1309 795h1v1h-1zM1389 795h1v1h-1zM1412 795h1v1h-1zM1417 795h2v1h-2zM1508 795h1v1h-1zM1511 795h3v1h-3zM1519 795h1v1h-1zM220 796h2v1h-2zM432 796h4v1h-4zM438 796h2v1h-2zM464 796h1v1h-1zM516 796h1v1h-1zM892 796h3v1h-3zM1127 796h1v1h-1zM1162 796h6v1h-6zM1199 796h2v1h-2zM1216 796h4v1h-4zM1277 796h5v1h-5zM1307 796h2v1h-2zM1310 796h1v1h-1zM1388 796h1v1h-1zM1412 796h1v1h-1zM1415 796h2v1h-2zM1509 796h2v1h-2zM1520 796h1v1h-1zM218 797h2v1h-2zM222 797h1v1h-1zM429 797h3v1h-3zM440 797h2v1h-2zM462 797h2v1h-2zM517 797h1v1h-1zM890 797h2v1h-2zM1127 797h1v1h-1zM1149 797h13v1h-13zM1168 797h4v1h-4zM1178 797h8v1h-8zM1194 797h5v1h-5zM1220 797h2v1h-2zM1275 797h2v1h-2zM1282 797h6v1h-6zM1306 797h1v1h-1zM1311 797h1v1h-1zM1388 797h1v1h-1zM1413 797h2v1h-2zM1521 797h1v1h-1zM215 798h3v1h-3zM223 798h1v1h-1zM429 798h1v1h-1zM442 798h1v1h-1zM460 798h2v1h-2zM518 798h1v1h-1zM887 798h3v1h-3zM1128 798h1v1h-1zM1148 798h1v1h-1zM1172 798h6v1h-6zM1186 798h8v1h-8zM1222 798h2v1h-2zM1273 798h2v1h-2zM1288 798h4v1h-4zM1304 798h2v1h-2zM1312 798h2v1h-2zM1387 798h1v1h-1zM1521 798h1v1h-1zM189 799h2v1h-2zM210 799h5v1h-5zM224 799h1v1h-1zM388 799h4v1h-4zM428 799h1v1h-1zM443 799h2v1h-2zM456 799h4v1h-4zM518 799h1v1h-1zM884 799h3v1h-3zM1128 799h1v1h-1zM1147 799h1v1h-1zM1224 799h1v1h-1zM1271 799h2v1h-2zM1292 799h6v1h-6zM1302 799h2v1h-2zM1314 799h1v1h-1zM1387 799h1v1h-1zM1522 799h1v1h-1zM189 800h1v1h-1zM191 800h3v1h-3zM204 800h6v1h-6zM225 800h1v1h-1zM386 800h2v1h-2zM392 800h4v1h-4zM428 800h1v1h-1zM445 800h11v1h-11zM519 800h1v1h-1zM868 800h6v1h-6zM880 800h4v1h-4zM1129 800h1v1h-1zM1146 800h1v1h-1zM1225 800h1v1h-1zM1269 800h2v1h-2zM1298 800h4v1h-4zM1315 800h1v1h-1zM1386 800h1v1h-1zM1523 800h1v1h-1zM114 801h4v1h-4zM188 801h1v1h-1zM194 801h2v1h-2zM200 801h4v1h-4zM225 801h1v1h-1zM383 801h3v1h-3zM396 801h4v1h-4zM427 801h1v1h-1zM520 801h1v1h-1zM864 801h4v1h-4zM874 801h6v1h-6zM1129 801h1v1h-1zM1144 801h2v1h-2zM1226 801h2v1h-2zM1267 801h2v1h-2zM1316 801h1v1h-1zM1385 801h1v1h-1zM1524 801h1v1h-1zM109 802h5v1h-5zM118 802h2v1h-2zM156 802h2v1h-2zM188 802h1v1h-1zM196 802h4v1h-4zM226 802h1v1h-1zM381 802h2v1h-2zM400 802h4v1h-4zM427 802h1v1h-1zM521 802h1v1h-1zM858 802h6v1h-6zM1129 802h1v1h-1zM1143 802h1v1h-1zM1228 802h1v1h-1zM1265 802h2v1h-2zM1317 802h5v1h-5zM1349 802h5v1h-5zM1372 802h2v1h-2zM1385 802h1v1h-1zM1525 802h1v1h-1zM107 803h2v1h-2zM120 803h1v1h-1zM152 803h4v1h-4zM158 803h2v1h-2zM173 803h1v1h-1zM187 803h1v1h-1zM227 803h1v1h-1zM379 803h2v1h-2zM404 803h2v1h-2zM426 803h1v1h-1zM521 803h1v1h-1zM613 803h2v1h-2zM700 803h2v1h-2zM853 803h5v1h-5zM1130 803h1v1h-1zM1142 803h1v1h-1zM1229 803h3v1h-3zM1263 803h2v1h-2zM1322 803h5v1h-5zM1347 803h2v1h-2zM1354 803h6v1h-6zM1370 803h2v1h-2zM1374 803h2v1h-2zM1384 803h1v1h-1zM1526 803h1v1h-1zM5 804h2v1h-2zM105 804h2v1h-2zM121 804h1v1h-1zM138 804h14v1h-14zM160 804h2v1h-2zM171 804h2v1h-2zM174 804h1v1h-1zM187 804h1v1h-1zM228 804h1v1h-1zM378 804h1v1h-1zM406 804h1v1h-1zM426 804h1v1h-1zM522 804h1v1h-1zM565 804h1v1h-1zM611 804h2v1h-2zM615 804h3v1h-3zM676 804h4v1h-4zM698 804h2v1h-2zM702 804h1v1h-1zM852 804h1v1h-1zM1130 804h1v1h-1zM1141 804h1v1h-1zM1232 804h4v1h-4zM1260 804h3v1h-3zM1327 804h3v1h-3zM1346 804h1v1h-1zM1360 804h4v1h-4zM1367 804h3v1h-3zM1376 804h1v1h-1zM1383 804h1v1h-1zM1526 804h1v1h-1zM7 805h2v1h-2zM28 805h2v1h-2zM103 805h2v1h-2zM122 805h2v1h-2zM132 805h6v1h-6zM162 805h1v1h-1zM169 805h2v1h-2zM174 805h1v1h-1zM186 805h1v1h-1zM229 805h1v1h-1zM376 805h2v1h-2zM407 805h1v1h-1zM425 805h1v1h-1zM523 805h1v1h-1zM532 805h11v1h-11zM564 805h1v1h-1zM566 805h1v1h-1zM610 805h1v1h-1zM618 805h2v1h-2zM674 805h2v1h-2zM680 805h4v1h-4zM695 805h3v1h-3zM703 805h1v1h-1zM724 805h10v1h-10zM851 805h1v1h-1zM1131 805h1v1h-1zM1140 805h1v1h-1zM1236 805h3v1h-3zM1256 805h4v1h-4zM1330 805h2v1h-2zM1344 805h2v1h-2zM1364 805h3v1h-3zM1377 805h1v1h-1zM1383 805h1v1h-1zM1527 805h1v1h-1zM9 806h2v1h-2zM24 806h4v1h-4zM30 806h1v1h-1zM98 806h5v1h-5zM124 806h1v1h-1zM128 806h4v1h-4zM163 806h2v1h-2zM167 806h2v1h-2zM175 806h1v1h-1zM186 806h1v1h-1zM229 806h1v1h-1zM374 806h2v1h-2zM408 806h2v1h-2zM425 806h1v1h-1zM524 806h1v1h-1zM530 806h2v1h-2zM543 806h2v1h-2zM563 806h1v1h-1zM566 806h1v1h-1zM608 806h2v1h-2zM620 806h2v1h-2zM671 806h3v1h-3zM684 806h11v1h-11zM703 806h1v1h-1zM720 806h4v1h-4zM734 806h2v1h-2zM850 806h1v1h-1zM1131 806h1v1h-1zM1138 806h2v1h-2zM1239 806h3v1h-3zM1252 806h4v1h-4zM1332 806h6v1h-6zM1342 806h2v1h-2zM1378 806h2v1h-2zM1382 806h1v1h-1zM1527 806h1v1h-1zM11 807h2v1h-2zM18 807h6v1h-6zM31 807h1v1h-1zM60 807h2v1h-2zM93 807h5v1h-5zM125 807h3v1h-3zM165 807h2v1h-2zM175 807h1v1h-1zM185 807h1v1h-1zM230 807h1v1h-1zM373 807h1v1h-1zM410 807h1v1h-1zM425 807h1v1h-1zM524 807h1v1h-1zM527 807h3v1h-3zM545 807h2v1h-2zM562 807h1v1h-1zM567 807h1v1h-1zM606 807h2v1h-2zM622 807h1v1h-1zM669 807h2v1h-2zM704 807h1v1h-1zM717 807h3v1h-3zM736 807h2v1h-2zM848 807h2v1h-2zM1132 807h1v1h-1zM1137 807h1v1h-1zM1242 807h2v1h-2zM1248 807h4v1h-4zM1338 807h4v1h-4zM1380 807h1v1h-1zM1382 807h1v1h-1zM1528 807h1v1h-1zM13 808h5v1h-5zM32 808h1v1h-1zM56 808h4v1h-4zM62 808h2v1h-2zM91 808h2v1h-2zM176 808h1v1h-1zM185 808h1v1h-1zM230 808h1v1h-1zM371 808h2v1h-2zM411 808h1v1h-1zM424 808h1v1h-1zM525 808h2v1h-2zM547 808h2v1h-2zM561 808h1v1h-1zM568 808h1v1h-1zM602 808h4v1h-4zM623 808h1v1h-1zM668 808h1v1h-1zM705 808h1v1h-1zM716 808h1v1h-1zM738 808h1v1h-1zM813 808h10v1h-10zM847 808h1v1h-1zM1132 808h1v1h-1zM1136 808h1v1h-1zM1244 808h4v1h-4zM1381 808h1v1h-1zM1529 808h1v1h-1zM33 809h1v1h-1zM52 809h4v1h-4zM64 809h1v1h-1zM89 809h2v1h-2zM177 809h1v1h-1zM184 809h1v1h-1zM231 809h1v1h-1zM370 809h1v1h-1zM412 809h1v1h-1zM424 809h1v1h-1zM549 809h2v1h-2zM560 809h1v1h-1zM569 809h1v1h-1zM597 809h5v1h-5zM624 809h2v1h-2zM667 809h1v1h-1zM706 809h1v1h-1zM714 809h2v1h-2zM739 809h2v1h-2zM812 809h1v1h-1zM823 809h3v1h-3zM846 809h1v1h-1zM1133 809h3v1h-3zM1529 809h1v1h-1zM34 810h1v1h-1zM48 810h4v1h-4zM65 810h1v1h-1zM76 810h6v1h-6zM87 810h2v1h-2zM177 810h1v1h-1zM184 810h1v1h-1zM231 810h1v1h-1zM285 810h3v1h-3zM368 810h2v1h-2zM413 810h1v1h-1zM423 810h1v1h-1zM551 810h3v1h-3zM559 810h1v1h-1zM569 810h1v1h-1zM595 810h2v1h-2zM626 810h1v1h-1zM666 810h1v1h-1zM707 810h1v1h-1zM713 810h1v1h-1zM741 810h1v1h-1zM811 810h1v1h-1zM826 810h2v1h-2zM844 810h2v1h-2zM1133 810h1v1h-1zM1530 810h1v1h-1zM35 811h1v1h-1zM44 811h4v1h-4zM66 811h2v1h-2zM74 811h2v1h-2zM82 811h5v1h-5zM178 811h1v1h-1zM183 811h1v1h-1zM232 811h1v1h-1zM283 811h2v1h-2zM288 811h4v1h-4zM366 811h2v1h-2zM414 811h2v1h-2zM423 811h1v1h-1zM554 811h2v1h-2zM558 811h1v1h-1zM570 811h1v1h-1zM593 811h2v1h-2zM627 811h1v1h-1zM665 811h1v1h-1zM707 811h1v1h-1zM712 811h1v1h-1zM742 811h2v1h-2zM810 811h1v1h-1zM828 811h4v1h-4zM842 811h2v1h-2zM1531 811h1v1h-1zM36 812h1v1h-1zM40 812h4v1h-4zM68 812h1v1h-1zM71 812h3v1h-3zM179 812h1v1h-1zM183 812h1v1h-1zM232 812h1v1h-1zM282 812h1v1h-1zM292 812h14v1h-14zM322 812h8v1h-8zM365 812h1v1h-1zM416 812h2v1h-2zM422 812h1v1h-1zM556 812h2v1h-2zM571 812h1v1h-1zM591 812h2v1h-2zM628 812h1v1h-1zM665 812h1v1h-1zM708 812h1v1h-1zM710 812h2v1h-2zM744 812h1v1h-1zM808 812h2v1h-2zM832 812h4v1h-4zM839 812h3v1h-3zM1531 812h1v1h-1zM1580 812h2v1h-2zM37 813h3v1h-3zM69 813h2v1h-2zM179 813h1v1h-1zM182 813h1v1h-1zM233 813h1v1h-1zM280 813h2v1h-2zM306 813h16v1h-16zM330 813h20v1h-20zM364 813h1v1h-1zM418 813h1v1h-1zM422 813h1v1h-1zM572 813h1v1h-1zM580 813h11v1h-11zM629 813h9v1h-9zM664 813h1v1h-1zM709 813h1v1h-1zM745 813h1v1h-1zM807 813h1v1h-1zM836 813h3v1h-3zM1532 813h1v1h-1zM1540 813h3v1h-3zM1576 813h4v1h-4zM1582 813h2v1h-2zM180 814h1v1h-1zM182 814h1v1h-1zM233 814h1v1h-1zM278 814h2v1h-2zM350 814h2v1h-2zM363 814h1v1h-1zM419 814h3v1h-3zM572 814h1v1h-1zM576 814h4v1h-4zM638 814h2v1h-2zM663 814h1v1h-1zM746 814h2v1h-2zM806 814h1v1h-1zM1532 814h1v1h-1zM1536 814h4v1h-4zM1543 814h3v1h-3zM1556 814h20v1h-20zM1584 814h1v1h-1zM180 815h2v1h-2zM234 815h1v1h-1zM277 815h1v1h-1zM352 815h1v1h-1zM362 815h1v1h-1zM421 815h1v1h-1zM573 815h3v1h-3zM640 815h1v1h-1zM662 815h1v1h-1zM748 815h1v1h-1zM762 815h4v1h-4zM805 815h1v1h-1zM1533 815h3v1h-3zM1546 815h2v1h-2zM1552 815h4v1h-4zM1585 815h1v1h-1zM181 816h1v1h-1zM234 816h1v1h-1zM245 816h2v1h-2zM275 816h2v1h-2zM353 816h1v1h-1zM360 816h2v1h-2zM641 816h1v1h-1zM652 816h10v1h-10zM749 816h13v1h-13zM766 816h1v1h-1zM804 816h1v1h-1zM1548 816h4v1h-4zM1586 816h2v1h-2zM1596 816h2v1h-2zM235 817h1v1h-1zM243 817h2v1h-2zM247 817h3v1h-3zM273 817h2v1h-2zM354 817h2v1h-2zM359 817h1v1h-1zM642 817h2v1h-2zM650 817h2v1h-2zM766 817h1v1h-1zM802 817h2v1h-2zM1588 817h1v1h-1zM1592 817h4v1h-4zM1598 817h2v1h-2zM235 818h1v1h-1zM242 818h1v1h-1zM250 818h2v1h-2zM271 818h2v1h-2zM356 818h1v1h-1zM358 818h1v1h-1zM644 818h1v1h-1zM647 818h3v1h-3zM767 818h1v1h-1zM801 818h1v1h-1zM1589 818h3v1h-3zM1600 818h2v1h-2zM236 819h1v1h-1zM240 819h2v1h-2zM252 819h19v1h-19zM357 819h1v1h-1zM645 819h2v1h-2zM767 819h1v1h-1zM800 819h1v1h-1zM1602 819h1v1h-1zM236 820h1v1h-1zM238 820h2v1h-2zM768 820h1v1h-1zM798 820h2v1h-2zM1603 820h2v1h-2zM237 821h1v1h-1zM768 821h1v1h-1zM796 821h2v1h-2zM1605 821h1v1h-1zM769 822h1v1h-1zM792 822h4v1h-4zM1606 822h1v1h-1zM770 823h1v1h-1zM786 823h6v1h-6zM1606 823h1v1h-1zM770 824h1v1h-1zM781 824h5v1h-5zM1607 824h1v1h-1zM771 825h1v1h-1zM779 825h2v1h-2zM1608 825h1v1h-1zM771 826h1v1h-1zM778 826h1v1h-1zM1609 826h1v1h-1zM772 827h1v1h-1zM776 827h2v1h-2zM1609 827h1v1h-1zM772 828h1v1h-1zM774 828h2v1h-2zM1610 828h1v1h-1zM773 829h1v1h-1zM1611 829h1v1h-1zM1612 830h1v1h-1zM1612 831h1v1h-1zM1613 832h1v1h-1zM1614 833h2v1h-2zM1616 834h1v1h-1zM1617 835h1v1h-1zM1618 836h2v1h-2zM1620 837h1v1h-1zM1621 838h1v1h-1zM1622 839h1v1h-1zM1623 840h1v1h-1zM1624 841h1v1h-1zM1625 842h1v1h-1zM1626 843h1v1h-1zM1627 844h1v1h-1zM1661 844h1v1h-1zM1628 845h1v1h-1zM1645 845h2v1h-2zM1659 845h2v1h-2zM1629 846h2v1h-2zM1643 846h2v1h-2zM1647 846h3v1h-3zM1657 846h2v1h-2zM1631 847h2v1h-2zM1642 847h1v1h-1zM1650 847h2v1h-2zM1655 847h2v1h-2zM1633 848h2v1h-2zM1640 848h2v1h-2zM1652 848h3v1h-3zM1635 849h2v1h-2zM1638 849h2v1h-2zM1637 850h1v1h-1z" fill="#1e90ff" shape-rendering="crispEdges"/>
<text x="9.6" y="771" font-size="10" fill="#000" textLength="67" lengthAdjust="spacingAndGlyphs" text-rendering="geometricPrecision" xml:space="preserve">RSI(14) 25.5031</text>
<text x="1689.5" y="769" font-size="10" fill="#000" textLength="14.5" lengthAdjust="spacingAndGlyphs" text-rendering="geometricPrecision" xml:space="preserve">100</text>
<text x="1689" y="798" font-size="10" fill="#000" textLength="9.5" lengthAdjust="spacingAndGlyphs" text-rendering="geometricPrecision" xml:space="preserve">70</text>
<text x="1689" y="843" font-size="10" fill="#000" textLength="9.5" lengthAdjust="spacingAndGlyphs" text-rendering="geometricPrecision" xml:space="preserve">30</text>
<text x="1689.3" y="871" font-size="10" fill="#000" textLength="4.6" lengthAdjust="spacingAndGlyphs" text-rendering="geometricPrecision" xml:space="preserve">0</text>
<g shape-rendering="crispEdges">
<rect x="5" y="875" width="1" height="3" fill="#000"/>
<rect x="69" y="875" width="1" height="3" fill="#000"/>
<rect x="133" y="875" width="1" height="3" fill="#000"/>
<rect x="197" y="875" width="1" height="3" fill="#000"/>
<rect x="261" y="875" width="1" height="3" fill="#000"/>
<rect x="325" y="875" width="1" height="3" fill="#000"/>
<rect x="389" y="875" width="1" height="3" fill="#000"/>
<rect x="453" y="875" width="1" height="3" fill="#000"/>
<rect x="517" y="875" width="1" height="3" fill="#000"/>
<rect x="581" y="875" width="1" height="3" fill="#000"/>
<rect x="645" y="875" width="1" height="3" fill="#000"/>
<rect x="709" y="875" width="1" height="3" fill="#000"/>
<rect x="773" y="875" width="1" height="3" fill="#000"/>
<rect x="837" y="875" width="1" height="3" fill="#000"/>
<rect x="901" y="875" width="1" height="3" fill="#000"/>
<rect x="965" y="875" width="1" height="3" fill="#000"/>
<rect x="1029" y="875" width="1" height="3" fill="#000"/>
<rect x="1093" y="875" width="1" height="3" fill="#000"/>
<rect x="1157" y="875" width="1" height="3" fill="#000"/>
<rect x="1221" y="875" width="1" height="3" fill="#000"/>
<rect x="1285" y="875" width="1" height="3" fill="#000"/>
<rect x="1349" y="875" width="1" height="3" fill="#000"/>
<rect x="1413" y="875" width="1" height="3" fill="#000"/>
<rect x="1477" y="875" width="1" height="3" fill="#000"/>
<rect x="1541" y="875" width="1" height="3" fill="#000"/>
<rect x="1605" y="875" width="1" height="3" fill="#000"/>
</g>
<text x="4.3" y="887" font-size="10" fill="#000" textLength="49.4" lengthAdjust="spacingAndGlyphs" text-rendering="geometricPrecision" xml:space="preserve">24 Jun 2020</text>
<text x="68.3" y="887" font-size="10" fill="#000" textLength="52.4" lengthAdjust="spacingAndGlyphs" text-rendering="geometricPrecision" xml:space="preserve">26 Jun 00:00</text>
<text x="132.3" y="887" font-size="10" fill="#000" textLength="52.4" lengthAdjust="spacingAndGlyphs" text-rendering="geometricPrecision" xml:space="preserve">29 Jun 08:00</text>
<text x="196.3" y="887" font-size="10" fill="#000" textLength="52.4" lengthAdjust="spacingAndGlyphs" text-rendering="geometricPrecision" xml:space="preserve">30 Jun 16:00</text>
<text x="260.3" y="887" font-size="10" fill="#000" textLength="44.4" lengthAdjust="spacingAndGlyphs" text-rendering="geometricPrecision" xml:space="preserve">2 Jul 00:00</text>
<text x="324.3" y="887" font-size="10" fill="#000" textLength="44.4" lengthAdjust="spacingAndGlyphs" text-rendering="geometricPrecision" xml:space="preserve">3 Jul 08:00</text>
<text x="388.3" y="887" font-size="10" fill="#000" textLength="44.4" lengthAdjust="spacingAndGlyphs" text-rendering="geometricPrecision" xml:space="preserve">6 Jul 16:00</text>
<text x="452.3" y="887" font-size="10" fill="#000" textLength="44.4" lengthAdjust="spacingAndGlyphs" text-rendering="geometricPrecision" xml:space="preserve">8 Jul 00:00</text>
<text x="516.3" y="887" font-size="10" fill="#000" textLength="44.4" lengthAdjust="spacingAndGlyphs" text-rendering="geometricPrecision" xml:space="preserve">9 Jul 08:00</text>
<text x="580.3" y="887" font-size="10" fill="#000" textLength="49.4" lengthAdjust="spacingAndGlyphs" text-rendering="geometricPrecision" xml:space="preserve">10 Jul 16:00</text>
<text x="644.3" y="887" font-size="10" fill="#000" textLength="49.4" lengthAdjust="spacingAndGlyphs" text-rendering="geometricPrecision" xml:space="preserve">14 Jul 00:00</text>
<text x="708.3" y="887" font-size="10" fill="#000" textLength="49.4" lengthAdjust="spacingAndGlyphs" text-rendering="geometricPrecision" xml:space="preserve">15 Jul 08:00</text>
<text x="772.3" y="887" font-size="10" fill="#000" textLength="49.4" lengthAdjust="spacingAndGlyphs" text-rendering="geometricPrecision" xml:space="preserve">16 Jul 16:00</text>
<text x="836.3" y="887" font-size="10" fill="#000" textLength="49.4" lengthAdjust="spacingAndGlyphs" text-rendering="geometricPrecision" xml:space="preserve">20 Jul 00:00</text>
<text x="900.3" y="887" font-size="10" fill="#000" textLength="49.4" lengthAdjust="spacingAndGlyphs" text-rendering="geometricPrecision" xml:space="preserve">21 Jul 08:00</text>
<text x="964.3" y="887" font-size="10" fill="#000" textLength="49.4" lengthAdjust="spacingAndGlyphs" text-rendering="geometricPrecision" xml:space="preserve">22 Jul 16:00</text>
<text x="1028.3" y="887" font-size="10" fill="#000" textLength="49.4" lengthAdjust="spacingAndGlyphs" text-rendering="geometricPrecision" xml:space="preserve">24 Jul 00:00</text>
<text x="1092.3" y="887" font-size="10" fill="#000" textLength="49.4" lengthAdjust="spacingAndGlyphs" text-rendering="geometricPrecision" xml:space="preserve">27 Jul 08:00</text>
<text x="1156.3" y="887" font-size="10" fill="#000" textLength="49.4" lengthAdjust="spacingAndGlyphs" text-rendering="geometricPrecision" xml:space="preserve">28 Jul 16:00</text>
<text x="1220.3" y="887" font-size="10" fill="#000" textLength="49.4" lengthAdjust="spacingAndGlyphs" text-rendering="geometricPrecision" xml:space="preserve">30 Jul 00:00</text>
<text x="1284.3" y="887" font-size="10" fill="#000" textLength="49.4" lengthAdjust="spacingAndGlyphs" text-rendering="geometricPrecision" xml:space="preserve">31 Jul 08:00</text>
<text x="1348.3" y="887" font-size="10" fill="#000" textLength="49.4" lengthAdjust="spacingAndGlyphs" text-rendering="geometricPrecision" xml:space="preserve">3 Aug 16:00</text>
<text x="1412.3" y="887" font-size="10" fill="#000" textLength="49.4" lengthAdjust="spacingAndGlyphs" text-rendering="geometricPrecision" xml:space="preserve">5 Aug 00:00</text>
<text x="1476.3" y="887" font-size="10" fill="#000" textLength="49.4" lengthAdjust="spacingAndGlyphs" text-rendering="geometricPrecision" xml:space="preserve">6 Aug 08:00</text>
<text x="1540.3" y="887" font-size="10" fill="#000" textLength="49.4" lengthAdjust="spacingAndGlyphs" text-rendering="geometricPrecision" xml:space="preserve">7 Aug 16:00</text>
<text x="1604.3" y="887" font-size="10" fill="#000" textLength="54.4" lengthAdjust="spacingAndGlyphs" text-rendering="geometricPrecision" xml:space="preserve">11 Aug 00:00</text>
</svg></body></html>
